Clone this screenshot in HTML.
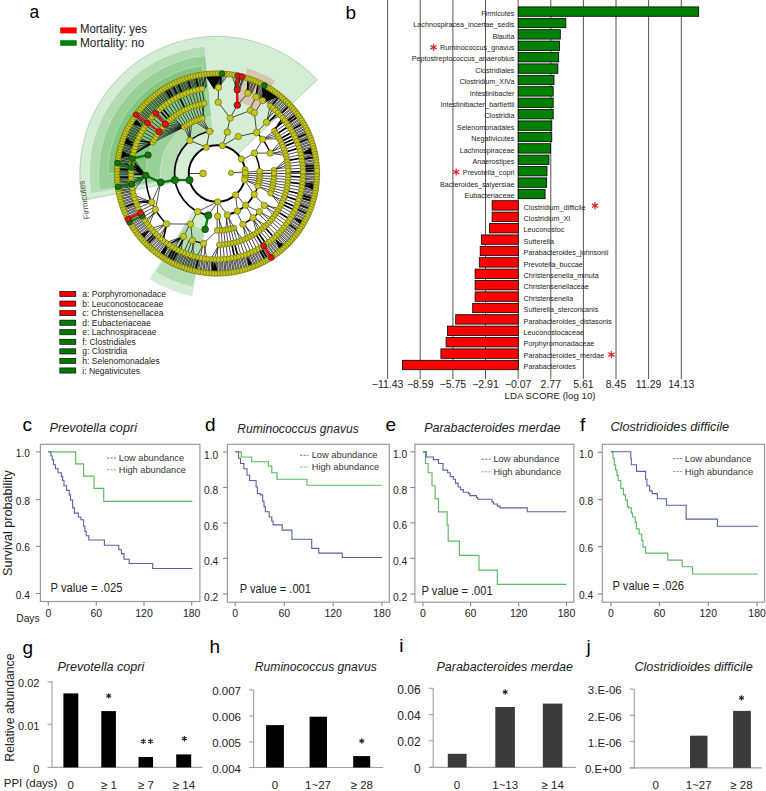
<!DOCTYPE html><html><head><meta charset="utf-8"><style>html,body{margin:0;padding:0;background:#fff;}svg{display:block;}text{font-family:"Liberation Sans", sans-serif;}</style></head><body>
<svg width="766" height="791" viewBox="0 0 766 791">
<rect width="766" height="791" fill="#fff"/>
<path d="M82.5 200.6 A137.2 137.2 0 0 1 317.3 79.9 L237.7 154.2 A28.3 28.3 0 0 0 189.3 179.1 Z" fill="#2e9e2e" fill-opacity="0.2" stroke="#3a8a3a" stroke-width="0.6" stroke-opacity="0.5"/>
<path d="M90.8 193.5 A127.8 127.8 0 0 1 204.8 46.3 L212.9 131.0 A42.7 42.7 0 0 0 174.8 180.2 Z" fill="#2e9e2e" fill-opacity="0.2" stroke="#fff" stroke-width="0.6" stroke-opacity="0.5"/>
<path d="M99.7 190.0 A118.5 118.5 0 0 1 205.6 55.5 L211.5 116.8 A57 57 0 0 0 160.6 181.4 Z" fill="#2e9e2e" fill-opacity="0.2" stroke="#fff" stroke-width="0.6" stroke-opacity="0.5"/>
<path d="M108.0 173.5 A109 109 0 0 1 201.8 65.6 L207.1 102.9 A71.3 71.3 0 0 0 145.7 173.5 Z" fill="#2e9e2e" fill-opacity="0.2" stroke="#fff" stroke-width="0.6" stroke-opacity="0.5"/>
<path d="M192.2 296.5 A125.5 125.5 0 0 1 149.2 279.1 L193.9 209.4 A42.7 42.7 0 0 0 208.6 215.4 Z" fill="#2e9e2e" fill-opacity="0.2" stroke="#fff" stroke-width="0.6" stroke-opacity="0.5"/>
<path d="M192.9 287.0 A116 116 0 0 1 155.5 271.9 L186.8 221.8 A57 57 0 0 0 205.1 229.3 Z" fill="#2e9e2e" fill-opacity="0.2" stroke="#fff" stroke-width="0.6" stroke-opacity="0.5"/>
<path d="M247.2 68.2 A109.5 109.5 0 0 1 275.0 80.6 L256.7 109.9 A75 75 0 0 0 237.7 101.4 Z" fill="#e06050" fill-opacity="0.28"/>
<path d="M259.7 173.5L245.3 173.5M259.6 176.0L245.3 175.2M259.4 178.6L245.1 176.9M259.0 181.1L244.9 178.5M258.5 183.5L244.5 180.2M257.8 186.0L244.6 179.9M254.2 194.5L244.6 179.9M245.6 205.2L235.9 194.5M237.4 211.0L235.6 194.9M227.3 214.9L217.7 201.8M217.7 216.2L217.5 201.8M208.3 215.3L217.7 201.8M197.7 211.6L217.7 201.8M174.9 180.4L189.5 180.1M189.9 140.5L206.4 147.3M209.6 131.4L206.4 147.3M227.3 132.1L222.4 145.7M238.3 136.5L222.4 145.7M254.5 153.1L241.8 160.0M259.6 171.3L245.3 172.0M274.0 173.5L259.7 173.5M273.9 176.4L259.6 175.7M273.7 179.3L259.5 177.8M273.3 182.1L259.2 180.0M272.8 185.0L258.8 182.1M272.2 187.8L258.3 184.2M271.4 190.5L257.7 186.3M270.5 193.3L257.8 186.0M264.3 205.4L254.2 194.5M259.4 211.6L245.6 205.2M252.9 217.8L245.6 205.2M242.9 224.3L236.4 211.5M234.1 227.9L227.3 214.9M231.4 228.7L227.8 214.8M228.6 229.3L225.7 215.3M225.7 229.8L227.3 214.9M222.9 230.2L217.7 216.2M220.0 230.4L219.2 216.1M217.1 230.5L217.1 216.2M190.7 224.1L197.3 211.4M160.7 182.4L174.8 180.2M184.2 126.9L189.9 140.5M186.6 125.3L189.9 140.5M189.1 123.8L189.9 140.5M191.7 122.4L189.9 140.5M194.3 121.2L209.6 131.4M196.9 120.1L209.6 131.4M199.7 119.2L209.6 131.4M202.4 118.4L209.6 131.4M230.2 118.1L226.9 132.0M256.6 132.5L238.3 136.5M262.5 139.2L254.5 153.1M270.2 153.1L254.5 153.1M273.9 170.2L259.6 171.0M274.0 173.1L259.7 173.2M288.3 173.5L274.0 173.5M288.2 176.5L273.9 175.9M288.0 179.6L273.8 178.4M287.7 182.6L273.5 180.8M287.3 185.6L273.2 183.2M286.7 188.6L272.7 185.6M286.0 191.6L272.1 188.0M285.1 194.5L271.5 190.3M284.2 197.4L270.7 192.6M283.1 200.3L269.8 194.9M281.9 203.1L270.5 193.3M280.6 205.8L270.5 193.3M279.1 208.5L264.3 205.4M277.6 211.1L265.4 203.6M275.9 213.7L264.1 205.6M274.1 216.2L264.3 205.4M272.3 218.6L259.4 211.6M270.3 220.9L259.6 211.4M268.2 223.1L257.9 213.2M266.0 225.3L252.9 217.8M263.8 227.3L254.4 216.5M261.4 229.3L252.5 218.1M259.0 231.1L252.9 217.8M256.5 232.9L252.9 217.8M253.9 234.5L242.9 224.3M251.3 236.0L244.4 223.5M248.6 237.4L242.3 224.6M245.8 238.7L242.9 224.3M243.0 239.9L234.1 227.9M240.2 240.9L235.5 227.4M237.3 241.9L233.2 228.2M234.3 242.7L230.8 228.8M231.3 243.3L228.5 229.3M228.3 243.9L226.1 229.8M225.3 244.3L223.7 230.1M222.3 244.6L221.2 230.3M219.2 244.8L218.8 230.5M203.6 243.5L217.1 230.5M192.4 240.4L190.7 224.1M183.5 236.5L190.2 223.8M166.6 223.9L190.7 224.1M155.4 209.5L160.7 182.4M151.8 202.3L160.7 182.4M145.7 175.5L160.7 182.4M152.8 142.5L184.2 126.9M154.2 139.8L184.2 126.9M155.7 137.1L184.2 126.9M157.3 134.5L184.2 126.9M159.0 132.0L184.2 126.9M160.9 129.6L184.2 126.9M162.8 127.2L184.2 126.9M164.8 124.9L184.2 126.9M166.9 122.7L184.2 126.9M169.2 120.6L184.2 126.9M171.5 118.6L184.2 126.9M173.8 116.7L182.5 128.1M176.3 115.0L184.5 126.7M178.8 113.3L186.5 125.3M181.5 111.7L188.6 124.1M184.1 110.2L190.7 122.9M186.9 108.9L192.9 121.8M189.7 107.7L195.1 120.9M192.5 106.5L197.4 120.0M195.4 105.6L199.7 119.2M198.3 104.7L202.1 118.5M201.3 104.0L204.4 117.9M204.3 103.3L202.4 118.4M218.2 102.2L230.2 118.1M237.3 105.1L230.2 118.1M250.5 110.5L230.2 118.1M254.4 112.8L256.6 132.5M266.5 122.2L256.6 132.5M274.2 131.0L262.8 139.5M276.0 133.5L262.5 139.2M277.7 136.0L262.5 139.2M279.2 138.7L262.5 139.2M280.6 141.4L270.2 153.1M282.0 144.1L270.2 153.1M283.2 146.9L269.9 152.2M284.2 149.8L270.7 154.5M285.2 152.7L270.2 153.1M286.0 155.6L270.2 153.1M286.7 158.6L273.9 170.2M287.3 161.5L273.9 170.2M287.7 164.6L273.9 170.2M288.1 167.6L273.8 168.8M288.2 170.6L274.0 171.2M303.0 173.5L288.3 173.5M302.7 180.4L288.1 179.2M301.9 187.2L287.4 184.9M301.3 190.6L286.9 187.7M299.6 197.3L285.5 193.3M297.4 203.9L283.7 198.7M293.2 213.3L280.2 206.5M291.6 216.4L278.8 209.0M287.9 222.2L275.8 213.9M285.9 225.0L274.1 216.2M283.7 227.7L272.3 218.5M281.5 230.4L270.5 220.7M279.2 232.9L268.5 222.8M276.7 235.4L266.5 224.8M271.6 240.0L262.3 228.6M268.9 242.1L260.0 230.4M260.3 247.8L252.9 235.1M257.2 249.5L250.4 236.5M254.2 251.1L247.8 237.8M251.0 252.5L245.2 239.0M247.8 253.8L242.6 240.1M244.6 255.0L239.9 241.0M241.3 256.0L237.1 241.9M231.2 258.3L228.8 243.8M227.8 258.8L225.9 244.2M224.3 259.2L223.1 244.5M220.9 259.4L220.2 244.7M217.5 259.5L217.4 244.8M214.0 259.4L219.2 244.8M210.6 259.3L219.2 244.8M207.1 258.9L203.6 243.5M203.7 258.5L206.0 243.9M200.3 257.9L203.2 243.4M196.9 257.1L203.6 243.5M193.6 256.3L192.4 240.4M190.3 255.2L194.8 241.3M187.0 254.1L192.1 240.3M183.8 252.8L189.5 239.3M180.7 251.4L183.5 236.5M174.5 248.3L181.8 235.5M171.6 246.5L183.5 236.5M165.8 242.6L183.5 236.5M160.5 238.3L166.6 223.9M157.9 236.0L168.0 225.3M155.5 233.6L166.0 223.3M153.1 231.0L166.6 223.9M150.8 228.4L166.6 223.9M148.7 225.7L155.4 209.5M146.6 223.0L155.4 209.5M144.7 220.1L157.1 212.1M142.9 217.1L155.6 209.7M141.2 214.1L154.2 207.2M139.6 211.1L152.9 204.6M138.2 207.9L151.7 202.0M136.9 204.7L150.6 199.4M134.6 198.2L151.8 202.3M133.7 194.9L151.8 202.3M132.9 191.5L145.7 175.5M132.3 188.1L145.7 175.5M131.7 184.7L145.7 175.5M131.4 181.3L145.7 175.5M131.1 177.9L145.8 177.1M131.0 170.9L145.7 175.5M132.6 157.2L145.7 175.5M134.1 150.5L152.8 142.5M135.1 147.2L152.8 142.5M136.2 143.9L152.8 142.5M138.9 137.6L152.2 143.7M140.4 134.5L153.5 141.1M142.0 131.4L154.8 138.6M143.8 128.4L156.3 136.1M145.6 125.5L157.8 133.7M147.6 122.7L159.5 131.4M149.7 120.0L161.2 129.1M151.9 117.3L163.0 126.9M154.2 114.7L164.9 124.8M156.6 112.3L166.9 122.7M164.4 105.5L173.4 117.1M167.2 103.4L175.7 115.4M170.0 101.5L178.1 113.8M173.0 99.6L180.5 112.3M176.0 97.9L183.0 110.8M182.2 94.9L188.1 108.3M185.3 93.5L190.8 107.2M188.6 92.3L193.4 106.2M191.9 91.3L196.2 105.3M195.2 90.3L198.9 104.5M198.5 89.5L201.7 103.9M201.9 88.8L204.5 103.3M218.5 87.5L218.2 102.2M247.8 93.2L237.3 105.1M256.0 96.9L249.4 110.0M262.6 100.6L254.8 113.0M270.2 105.9L266.5 122.2M272.9 108.1L266.5 122.2M275.4 110.4L265.4 121.2M280.3 115.3L266.5 122.2M286.8 123.3L274.9 131.9M290.6 129.1L278.1 136.7M298.0 144.7L284.2 149.6M300.1 151.2L285.9 155.0M300.9 154.6L286.6 157.8M302.1 161.4L287.6 163.5M302.6 164.8L287.9 166.3M302.8 168.2L288.2 169.1M317.0 173.5L303.0 173.5M316.0 174.6L304.0 174.5M317.0 176.3L303.0 175.9M315.9 177.4L303.9 176.9M316.8 179.1L302.9 178.3M315.8 180.1L303.8 179.3M316.6 181.9L302.7 180.7M315.6 182.9L303.6 181.8M315.3 185.7L303.3 184.2M314.9 188.4L303.0 186.6M315.6 190.2L301.8 187.8M314.4 191.1L302.6 189.0M315.1 192.9L301.4 190.2M313.9 193.8L302.1 191.4M314.5 195.7L300.9 192.6M313.3 196.5L301.6 193.7M312.6 199.2L301.0 196.1M311.8 201.9L300.4 198.4M312.3 203.7L299.0 199.5M311.0 204.5L299.6 200.7M311.4 206.4L298.2 201.8M310.1 207.1L298.8 203.0M309.1 209.7L298.0 205.3M309.5 211.6L296.5 206.3M308.1 212.3L297.1 207.6M307.0 214.8L296.1 209.8M307.2 216.7L294.6 210.7M305.8 217.3L295.0 212.0M305.9 219.2L293.5 212.8M304.5 219.7L293.9 214.1M304.6 221.7L292.4 214.9M303.2 222.2L292.8 216.3M303.3 224.1L291.2 217.0M301.8 224.6L291.5 218.4M301.8 226.5L289.9 219.1M300.4 226.9L290.3 220.4M300.3 228.8L288.6 221.1M298.8 229.2L288.9 222.5M297.2 231.5L287.5 224.5M297.1 233.4L285.9 225.0M295.6 233.7L286.1 226.4M295.4 235.6L284.4 226.9M293.9 235.9L284.6 228.3M293.6 237.8L282.9 228.8M292.1 238.0L283.0 230.2M291.8 239.9L281.3 230.6M290.3 240.1L281.4 232.0M289.9 242.0L279.7 232.4M288.4 242.1L279.7 233.8M288.0 244.0L278.0 234.1M286.5 244.1L278.0 235.5M286.0 245.9L276.3 235.8M284.5 246.0L276.3 237.2M283.9 247.8L274.5 237.4M282.4 247.8L274.5 238.8M281.8 249.7L272.7 239.0M280.3 249.6L272.6 240.4M279.7 251.4L270.9 240.5M278.2 251.4L270.7 241.9M277.5 253.2L269.0 242.0M276.0 253.0L268.8 243.4M275.2 254.8L267.1 243.4M273.7 254.6L266.8 244.8M272.9 256.4L265.1 244.8M271.4 256.2L264.8 246.2M270.6 257.9L263.1 246.1M269.1 257.7L262.8 247.5M266.7 259.1L260.7 248.7M264.3 260.5L258.6 249.9M263.3 262.1L256.8 249.7M261.9 261.7L256.4 251.1M260.8 263.4L254.7 250.8M259.4 263.0L254.2 252.1M258.3 264.6L252.5 251.8M256.9 264.1L252.0 253.1M255.8 265.7L250.3 252.8M254.3 265.2L249.8 254.1M253.2 266.7L248.1 253.7M251.8 266.2L247.5 255.0M250.5 267.7L245.8 254.5M249.1 267.1L245.3 255.8M247.9 268.6L243.6 255.3M246.5 268.0L242.9 256.5M245.2 269.4L241.3 256.0M243.9 268.8L240.6 257.2M242.5 270.2L239.0 256.6M241.2 269.5L238.3 257.9M239.8 270.9L236.6 257.2M238.5 270.1L235.9 258.4M237.1 271.5L234.3 257.7M235.8 270.7L233.5 258.9M234.4 272.0L231.9 258.2M233.1 271.2L231.1 259.3M231.6 272.4L229.6 258.6M230.4 271.6L228.7 259.7M228.8 272.8L227.2 258.9M227.6 271.9L226.3 260.0M226.1 273.1L224.8 259.1M224.9 272.2L223.9 260.2M223.3 273.3L222.4 259.3M222.1 272.4L221.5 260.4M220.5 273.4L220.0 259.4M219.3 272.5L219.0 260.5M217.7 273.5L217.6 259.5M216.6 272.5L216.6 260.5M214.9 273.5L215.2 259.5M213.8 272.4L214.2 260.5M211.0 272.3L211.8 260.3M209.3 273.2L210.4 259.2M208.3 272.1L209.3 260.2M206.5 273.0L208.0 259.0M205.5 271.8L206.9 259.9M203.8 272.6L205.6 258.7M202.8 271.5L204.5 259.6M201.0 272.2L203.3 258.4M200.1 271.0L202.1 259.2M198.3 271.7L200.9 258.0M197.3 270.5L199.7 258.8M194.6 269.9L197.4 258.3M192.8 270.5L196.2 256.9M192.0 269.3L195.0 257.7M190.1 269.8L193.9 256.3M189.3 268.5L192.7 257.0M187.4 269.0L191.6 255.7M186.7 267.7L190.3 256.3M184.8 268.2L189.3 254.9M184.0 266.9L188.0 255.5M182.1 267.2L187.0 254.1M181.4 265.9L185.8 254.7M179.5 266.2L184.8 253.2M178.9 264.9L183.5 253.8M177.0 265.1L182.6 252.3M176.3 263.8L181.3 252.8M174.4 264.0L180.4 251.3M173.8 262.6L179.1 251.8M171.4 261.4L176.9 250.7M168.9 260.0L174.8 249.6M166.5 258.7L172.6 248.3M164.6 258.7L171.9 246.7M164.2 257.2L170.6 247.1M162.2 257.2L169.9 245.5M161.9 255.7L168.5 245.8M159.6 254.1L166.5 244.4M157.7 254.0L166.0 242.7M157.4 252.5L164.6 242.9M155.4 252.3L164.1 241.3M155.2 250.8L162.7 241.4M153.3 250.6L162.2 239.8M153.0 249.1L160.8 239.9M151.1 248.7L160.4 238.2M150.9 247.2L159.0 238.3M149.1 246.9L158.6 236.6M148.9 245.4L157.2 236.7M146.9 243.4L155.4 235.0M145.0 241.5L153.7 233.2M143.2 240.9L153.5 231.5M143.1 239.4L152.1 231.4M141.3 238.8L151.9 229.7M141.3 237.3L150.5 229.6M139.5 236.7L150.4 227.9M139.6 235.2L149.0 227.7M137.8 234.5L148.9 226.0M137.9 233.0L147.5 225.8M136.1 232.3L147.4 224.0M136.3 230.8L146.0 223.8M134.5 230.0L146.0 222.1M134.7 228.5L144.7 221.8M132.9 227.7L144.7 220.1M133.2 226.2L143.3 219.8M131.5 225.3L143.4 218.1M131.7 223.8L142.1 217.7M130.1 222.9L142.2 216.0M130.4 221.4L140.9 215.6M128.7 220.4L141.1 213.9M129.1 219.0L139.7 213.5M127.4 218.0L140.0 211.7M127.8 216.5L138.6 211.3M126.2 215.4L138.9 209.6M126.7 214.0L137.6 209.1M125.1 212.9L138.0 207.4M125.6 211.5L136.7 206.9M124.0 210.3L137.0 205.2M124.5 208.9L135.8 204.6M123.6 206.3L134.9 202.3M122.1 205.1L135.4 200.6M122.7 203.7L134.1 200.0M121.3 202.4L134.7 198.4M121.9 201.0L133.4 197.7M120.5 199.7L134.0 196.0M121.2 198.4L132.8 195.4M119.8 197.0L133.4 193.7M120.5 195.7L132.2 193.0M119.2 194.3L132.9 191.4M119.9 193.0L131.7 190.6M118.6 191.6L132.4 189.0M119.4 190.3L131.3 188.2M118.2 188.8L132.0 186.7M119.0 187.5L130.9 185.8M117.8 186.0L131.7 184.3M118.6 184.8L130.6 183.4M117.5 183.3L131.4 181.9M118.4 182.0L130.3 181.0M117.2 180.5L131.2 179.5M118.2 179.3L130.1 178.6M118.0 176.5L130.0 176.2M117.0 174.9L131.0 174.7M118.0 173.8L130.0 173.7M117.0 172.1L131.0 172.3M118.0 171.0L130.0 171.3M118.1 168.2L130.1 168.9M117.2 166.5L131.2 167.5M118.3 165.5L130.3 166.4M118.6 162.7L130.5 164.0M117.8 161.0L131.7 162.7M118.9 160.0L130.8 161.6M118.2 158.2L132.0 160.3M119.3 157.2L131.2 159.2M118.6 155.4L132.4 158.0M119.8 154.5L131.6 156.8M119.2 152.7L132.9 155.6M120.4 151.8L132.1 154.4M119.8 150.0L133.4 153.3M121.0 149.1L132.7 152.1M120.5 147.3L134.0 151.0M121.8 146.5L133.3 149.7M121.3 144.6L134.7 148.6M122.6 143.8L134.0 147.4M123.4 141.2L134.8 145.1M123.0 139.3L136.2 144.1M124.4 138.6L135.6 142.8M124.0 136.7L137.0 141.8M125.4 136.0L136.5 140.6M125.1 134.1L138.0 139.6M126.5 133.5L137.4 138.3M126.2 131.6L138.9 137.4M127.6 131.0L138.4 136.1M127.4 129.0L140.0 135.3M128.8 128.5L139.5 133.9M128.7 126.6L141.1 133.1M130.1 126.0L140.7 131.8M130.1 124.1L142.2 131.0M131.5 123.6L141.8 129.7M131.5 121.7L143.4 128.9M132.9 121.3L143.1 127.6M132.9 119.3L144.7 126.9M134.4 118.9L144.4 125.5M134.5 117.0L146.0 124.9M136.0 116.6L145.8 123.5M136.1 114.7L147.4 123.0M137.6 114.4L147.2 121.6M137.8 112.5L148.9 121.0M139.3 112.2L148.7 119.6M139.5 110.3L150.4 119.1M141.0 110.1L150.2 117.8M141.3 108.2L151.9 117.3M142.8 108.0L151.8 115.9M143.2 106.1L153.5 115.5M144.7 105.9L153.4 114.1M145.1 104.0L155.1 113.8M146.6 103.9L155.1 112.4M147.0 102.1L156.8 112.1M148.5 102.0L156.8 110.7M149.1 100.1L158.6 110.4M150.6 100.1L158.6 109.0M151.1 98.3L160.4 108.8M152.6 98.3L160.4 107.4M153.3 96.4L162.2 107.2M154.8 96.5L162.3 105.8M155.4 94.7L164.1 105.7M156.9 94.8L164.2 104.3M157.7 93.0L166.0 104.3M159.2 93.2L166.2 102.9M159.9 91.4L167.9 102.9M161.4 91.6L168.2 101.5M162.2 89.8L169.9 101.5M163.7 90.1L170.2 100.2M166.1 88.6L172.3 98.9M168.5 87.2L174.4 97.7M169.4 85.5L176.1 97.9M170.9 85.9L176.5 96.5M173.4 84.6L178.7 95.4M174.4 83.0L180.4 95.7M175.9 83.4L180.9 94.4M178.4 82.3L183.1 93.4M179.5 80.8L184.8 93.8M181.0 81.3L185.3 92.5M182.1 79.8L187.0 92.9M183.5 80.3L187.6 91.6M184.8 78.8L189.3 92.1M186.2 79.4L189.9 90.8M188.8 78.6L192.2 90.1M190.1 77.2L193.9 90.7M191.5 77.9L194.6 89.4M192.8 76.5L196.2 90.1M194.1 77.2L196.9 88.9M196.8 76.6L199.3 88.3M198.3 75.3L200.9 89.0M199.6 76.0L201.7 87.9M201.0 74.8L203.3 88.6M202.3 75.6L204.1 87.5M203.8 74.4L205.6 88.3M205.0 75.2L206.5 87.1M206.5 74.0L201.9 88.8M209.3 73.8L218.5 87.5M212.1 73.6L218.5 87.5M214.9 73.5L215.2 87.5M216.0 74.5L216.2 86.5M217.7 73.5L217.6 87.5M218.8 74.5L218.6 86.5M221.6 74.6L221.0 86.6M223.3 73.7L218.5 87.5M226.1 73.9L218.5 87.5M228.8 74.2L218.5 87.5M231.6 74.6L237.2 89.9M234.4 75.0L237.2 89.9M237.1 75.5L234.3 89.3M238.0 76.8L235.5 88.5M240.7 77.4L237.8 89.0M242.5 76.8L239.0 90.4M243.4 78.1L240.2 89.6M245.2 77.6L237.2 89.9M250.5 79.3L245.8 92.5M251.3 80.6L247.1 91.9M253.2 80.3L248.1 93.3M253.8 81.6L249.4 92.7M255.8 81.3L250.3 94.2M256.4 82.7L251.6 93.7M260.8 83.6L254.7 96.2M261.4 85.0L256.0 95.7M263.3 84.9L256.8 97.3M263.9 86.3L258.2 96.9M265.8 86.2L259.0 98.4M266.3 87.6L260.3 98.0M268.7 89.0L262.4 99.3M270.6 89.1L263.1 100.9M271.0 90.5L264.4 100.6M273.3 92.1L266.5 101.9M275.2 92.2L267.1 103.6M275.5 93.7L268.4 103.3M277.5 93.8L269.0 105.0M277.7 95.3L270.4 104.8M279.9 97.1L272.3 106.3M281.8 97.3L272.7 108.0M282.0 98.8L274.1 107.9M283.9 99.2L274.5 109.6M284.1 100.7L275.9 109.5M286.0 101.1L276.3 111.2M286.1 102.6L277.7 111.2M288.0 103.0L278.0 112.9M288.0 104.5L279.4 112.9M289.9 106.6L281.1 114.7M291.8 107.1L281.3 116.4M291.8 108.6L282.7 116.5M293.6 109.2L282.9 118.2M293.6 110.7L284.3 118.3M295.4 111.4L284.4 120.1M295.3 112.9L285.8 120.2M296.9 115.1L287.3 122.2M298.5 117.4L288.7 124.2M300.3 118.2L288.6 125.9M300.1 119.7L290.0 126.2M301.8 120.5L289.9 127.9M301.5 122.0L291.3 128.2M303.0 124.4L292.5 130.3M304.6 125.3L292.4 132.1M304.3 126.8L293.7 132.5M305.9 127.8L293.5 134.2M305.6 129.2L294.8 134.6M307.2 130.3L294.6 136.3M306.8 131.7L295.9 136.8M307.9 134.3L296.9 139.0M309.5 135.4L296.5 140.7M309.0 136.8L297.8 141.3M309.9 139.4L298.7 143.5M311.4 140.6L298.2 145.2M310.9 142.0L299.5 145.8M312.3 143.3L299.0 147.5M311.7 144.6L300.2 148.1M313.1 145.9L299.7 149.8M312.5 147.3L300.9 150.5M313.9 148.6L300.3 152.1M313.2 150.0L301.5 152.8M314.5 151.3L300.9 154.4M313.8 152.7L302.1 155.2M315.1 154.1L301.4 156.8M314.3 155.4L302.5 157.6M314.8 158.1L302.9 160.0M316.0 159.6L302.2 161.5M315.2 160.8L303.3 162.4M316.4 162.4L302.5 163.9M315.5 163.6L303.6 164.8M315.7 166.3L303.8 167.2M315.9 169.1L303.9 169.6M316.0 171.9L304.0 172.1" stroke="#111" stroke-width="0.75" fill="none"/>
<path d="M302.9 177.0L288.2 176.4M302.4 183.8L287.8 182.1M300.5 194.0L286.2 190.5M298.6 200.6L284.7 196.0M296.2 207.1L282.6 201.4M294.8 210.3L281.5 204.0M289.8 219.3L277.3 211.5M274.2 237.7L264.4 226.7M266.1 244.1L257.7 232.0M263.2 246.0L255.3 233.6M238.0 256.9L234.4 242.7M234.6 257.7L231.6 243.3M177.6 249.9L184.3 236.9M168.7 244.6L183.5 236.5M163.1 240.5L166.6 223.9M135.7 201.5L151.8 202.3M131.0 174.4L145.7 174.2M131.2 167.5L145.7 175.5M131.5 164.1L145.7 175.5M132.0 160.6L145.7 175.5M133.3 153.9L152.8 142.5M137.5 140.7L152.8 142.5M159.1 109.9L169.0 120.8M161.7 107.6L171.2 118.9M179.0 96.3L185.5 109.5M237.2 89.9L237.3 105.1M277.9 112.8L267.5 123.2M282.6 117.9L274.2 131.0M284.8 120.6L273.2 129.6M288.8 126.2L276.5 134.3M292.4 132.1L279.5 139.2M294.0 135.1L280.8 141.7M295.4 138.2L282.0 144.3M296.8 141.4L283.2 146.9M299.1 147.9L285.1 152.3M301.6 158.0L287.1 160.6M303.0 171.7L288.3 172.0M316.4 184.6L302.5 183.1M316.0 187.4L302.2 185.5M313.9 198.4L300.3 194.9M313.1 201.1L299.7 197.2M310.5 209.0L297.4 204.0M308.4 214.2L295.6 208.5M298.7 231.1L287.3 223.1M268.2 259.4L261.0 247.4M265.8 260.8L259.0 248.6M212.1 273.4L212.8 259.4M195.5 271.2L198.5 257.5M171.9 262.8L178.2 250.3M169.4 261.5L176.1 249.1M167.0 260.1L174.0 248.0M159.9 255.6L167.9 244.1M147.0 244.9L156.8 234.9M145.1 243.0L155.1 233.2M123.0 207.7L136.2 202.9M117.1 177.7L131.1 177.1M117.1 169.3L131.1 169.9M117.5 163.7L131.4 165.1M122.1 141.9L135.4 146.4M164.6 88.3L171.9 100.3M167.0 86.9L174.0 99.0M171.9 84.2L178.2 96.7M177.0 81.9L182.6 94.7M187.4 78.0L191.6 91.3M195.5 75.8L198.5 89.5M220.5 73.6L220.0 87.6M239.8 76.1L236.6 89.8M247.9 78.4L247.8 93.2M258.3 82.4L256.0 96.9M268.2 87.6L261.0 99.6M272.9 90.6L265.1 102.2M279.7 95.6L270.9 106.5M289.9 105.0L279.7 114.6M297.1 113.6L285.9 122.0M298.7 115.9L287.3 123.9M303.3 122.9L291.2 130.0M308.4 132.8L295.6 138.5M310.5 138.0L297.4 143.0M315.6 156.8L301.8 159.2M316.6 165.1L302.7 166.3M316.8 167.9L302.9 168.7M317.0 170.7L303.0 171.1" stroke="#000" stroke-width="1.7" fill="none"/>
<path d="M214.1 89.6L204.9 75.2L222.2 74.6ZM262.7 103.1L261.9 85.3L279.3 96.6ZM302.6 153.3L312.3 146.5L314.2 154.9ZM275.2 239.5L285.0 245.4L279.8 250.0ZM214.8 261.5L218.0 272.5L211.1 272.3ZM130.7 156.1L119.2 158.2L120.9 149.7ZM134.3 143.4L122.8 142.9L125.2 136.4ZM142.4 126.9L131.3 124.0L134.9 118.1ZM149.6 230.1L143.2 239.5L139.2 234.7ZM167.8 246.5L163.8 257.0L159.5 254.1ZM304.1 185.7L315.4 184.2L314.6 190.4ZM293.2 217.5L304.0 220.7L301.4 225.2ZM247.1 256.2L253.3 265.6L248.4 267.4Z" fill="#000"/>
<line x1="203.0" y1="173.5" x2="188.7" y2="173.5" stroke="#111" stroke-width="0.8"/>
<line x1="231.0" y1="172.8" x2="245.3" y2="172.0" stroke="#111" stroke-width="0.8"/>
<circle cx="217.0" cy="173.5" r="28.3" fill="none" stroke="#000" stroke-width="1.9"/>
<path d="M208.4 215.3 A42.7 42.7 0 0 1 213.3 131.0" fill="none" stroke="#000" stroke-width="1.7"/>
<path d="M254.0 152.1 A42.7 42.7 0 0 1 254.0 194.8" fill="none" stroke="#000" stroke-width="1.5"/>
<path d="M166.8 224.2 A71.3 71.3 0 0 1 145.7 175.2" fill="none" stroke="#000" stroke-width="1.5"/>
<path d="M203.6 243.5 A71.3 71.3 0 0 1 192.4 240.4" fill="none" stroke="#000" stroke-width="1.3"/>
<path d="M183.5 127.4 A57.0 57.0 0 0 1 204.2 118.0" fill="none" stroke="#000" stroke-width="1.2"/>
<path d="M256.6 132.5 A57.0 57.0 0 0 1 270.2 153.1" fill="none" stroke="#000" stroke-width="1.4"/>
<path d="M254.2 194.5 A42.7 42.7 0 0 1 227.3 214.9" fill="none" stroke="#000" stroke-width="1.6"/>
<path d="M259.4 211.6 A57.0 57.0 0 0 1 242.9 224.3" fill="none" stroke="#000" stroke-width="1.4"/>
<circle cx="203.0" cy="173.5" r="3.4" fill="#c4c81e" stroke="#6e6e0c" stroke-width="0.7"/><circle cx="231.0" cy="172.8" r="2.6" fill="#c4c81e" stroke="#6e6e0c" stroke-width="0.7"/><circle cx="245.3" cy="175.0" r="3.1" fill="#c4c81e" stroke="#6e6e0c" stroke-width="0.7"/><circle cx="245.0" cy="177.4" r="3.1" fill="#c4c81e" stroke="#6e6e0c" stroke-width="0.7"/><circle cx="244.6" cy="179.9" r="3.1" fill="#c4c81e" stroke="#6e6e0c" stroke-width="0.7"/><circle cx="235.6" cy="194.9" r="3.1" fill="#c4c81e" stroke="#6e6e0c" stroke-width="0.7"/><circle cx="217.7" cy="201.8" r="3.1" fill="#c4c81e" stroke="#6e6e0c" stroke-width="0.7"/><circle cx="189.5" cy="180.1" r="3.1" fill="#c4c81e" stroke="#6e6e0c" stroke-width="0.7"/><circle cx="206.4" cy="147.3" r="3.1" fill="#c4c81e" stroke="#6e6e0c" stroke-width="0.7"/><circle cx="222.4" cy="145.7" r="3.1" fill="#c4c81e" stroke="#6e6e0c" stroke-width="0.7"/><circle cx="241.4" cy="159.1" r="3.1" fill="#c4c81e" stroke="#6e6e0c" stroke-width="0.7"/><circle cx="245.0" cy="169.6" r="3.1" fill="#c4c81e" stroke="#6e6e0c" stroke-width="0.7"/><circle cx="245.3" cy="172.8" r="3.1" fill="#c4c81e" stroke="#6e6e0c" stroke-width="0.7"/><circle cx="259.7" cy="173.5" r="2.9" fill="#c4c81e" stroke="#6e6e0c" stroke-width="0.7"/><circle cx="259.6" cy="176.0" r="2.9" fill="#c4c81e" stroke="#6e6e0c" stroke-width="0.7"/><circle cx="259.4" cy="178.6" r="2.9" fill="#c4c81e" stroke="#6e6e0c" stroke-width="0.7"/><circle cx="259.0" cy="181.1" r="2.9" fill="#c4c81e" stroke="#6e6e0c" stroke-width="0.7"/><circle cx="258.5" cy="183.5" r="2.9" fill="#c4c81e" stroke="#6e6e0c" stroke-width="0.7"/><circle cx="257.8" cy="186.0" r="2.9" fill="#c4c81e" stroke="#6e6e0c" stroke-width="0.7"/><circle cx="254.2" cy="194.5" r="3.2" fill="#c4c81e" stroke="#6e6e0c" stroke-width="0.7"/><circle cx="245.6" cy="205.2" r="3.2" fill="#c4c81e" stroke="#6e6e0c" stroke-width="0.7"/><circle cx="237.4" cy="211.0" r="3.2" fill="#c4c81e" stroke="#6e6e0c" stroke-width="0.7"/><circle cx="227.3" cy="214.9" r="3.2" fill="#c4c81e" stroke="#6e6e0c" stroke-width="0.7"/><circle cx="217.7" cy="216.2" r="3.2" fill="#c4c81e" stroke="#6e6e0c" stroke-width="0.7"/><circle cx="208.3" cy="215.3" r="3.2" fill="#c4c81e" stroke="#6e6e0c" stroke-width="0.7"/><circle cx="197.7" cy="211.6" r="3.2" fill="#c4c81e" stroke="#6e6e0c" stroke-width="0.7"/><circle cx="174.9" cy="180.4" r="3.2" fill="#c4c81e" stroke="#6e6e0c" stroke-width="0.7"/><circle cx="189.9" cy="140.5" r="3.2" fill="#c4c81e" stroke="#6e6e0c" stroke-width="0.7"/><circle cx="209.6" cy="131.4" r="3.2" fill="#c4c81e" stroke="#6e6e0c" stroke-width="0.7"/><circle cx="227.3" cy="132.1" r="3.2" fill="#c4c81e" stroke="#6e6e0c" stroke-width="0.7"/><circle cx="238.3" cy="136.5" r="3.2" fill="#c4c81e" stroke="#6e6e0c" stroke-width="0.7"/><circle cx="254.5" cy="153.1" r="3.2" fill="#c4c81e" stroke="#6e6e0c" stroke-width="0.7"/><circle cx="259.6" cy="171.3" r="2.9" fill="#c4c81e" stroke="#6e6e0c" stroke-width="0.7"/><circle cx="274.0" cy="173.5" r="2.8" fill="#c4c81e" stroke="#6e6e0c" stroke-width="0.7"/><circle cx="273.9" cy="176.4" r="2.8" fill="#c4c81e" stroke="#6e6e0c" stroke-width="0.7"/><circle cx="273.7" cy="179.3" r="2.8" fill="#c4c81e" stroke="#6e6e0c" stroke-width="0.7"/><circle cx="273.3" cy="182.1" r="2.8" fill="#c4c81e" stroke="#6e6e0c" stroke-width="0.7"/><circle cx="272.8" cy="185.0" r="2.8" fill="#c4c81e" stroke="#6e6e0c" stroke-width="0.7"/><circle cx="272.2" cy="187.8" r="2.8" fill="#c4c81e" stroke="#6e6e0c" stroke-width="0.7"/><circle cx="271.4" cy="190.5" r="2.8" fill="#c4c81e" stroke="#6e6e0c" stroke-width="0.7"/><circle cx="270.5" cy="193.3" r="2.8" fill="#c4c81e" stroke="#6e6e0c" stroke-width="0.7"/><circle cx="264.3" cy="205.4" r="3.2" fill="#c4c81e" stroke="#6e6e0c" stroke-width="0.7"/><circle cx="259.4" cy="211.6" r="3.2" fill="#c4c81e" stroke="#6e6e0c" stroke-width="0.7"/><circle cx="252.9" cy="217.8" r="3.2" fill="#c4c81e" stroke="#6e6e0c" stroke-width="0.7"/><circle cx="242.9" cy="224.3" r="3.2" fill="#c4c81e" stroke="#6e6e0c" stroke-width="0.7"/><circle cx="234.1" cy="227.9" r="2.8" fill="#c4c81e" stroke="#6e6e0c" stroke-width="0.7"/><circle cx="231.4" cy="228.7" r="2.8" fill="#c4c81e" stroke="#6e6e0c" stroke-width="0.7"/><circle cx="228.6" cy="229.3" r="2.8" fill="#c4c81e" stroke="#6e6e0c" stroke-width="0.7"/><circle cx="225.7" cy="229.8" r="2.8" fill="#c4c81e" stroke="#6e6e0c" stroke-width="0.7"/><circle cx="222.9" cy="230.2" r="2.8" fill="#c4c81e" stroke="#6e6e0c" stroke-width="0.7"/><circle cx="220.0" cy="230.4" r="2.8" fill="#c4c81e" stroke="#6e6e0c" stroke-width="0.7"/><circle cx="217.1" cy="230.5" r="2.8" fill="#c4c81e" stroke="#6e6e0c" stroke-width="0.7"/><circle cx="190.7" cy="224.1" r="3.2" fill="#c4c81e" stroke="#6e6e0c" stroke-width="0.7"/><circle cx="160.7" cy="182.4" r="3.2" fill="#c4c81e" stroke="#6e6e0c" stroke-width="0.7"/><circle cx="184.2" cy="126.9" r="2.8" fill="#c4c81e" stroke="#6e6e0c" stroke-width="0.7"/><circle cx="186.6" cy="125.3" r="2.8" fill="#c4c81e" stroke="#6e6e0c" stroke-width="0.7"/><circle cx="189.1" cy="123.8" r="2.8" fill="#c4c81e" stroke="#6e6e0c" stroke-width="0.7"/><circle cx="191.7" cy="122.4" r="2.8" fill="#c4c81e" stroke="#6e6e0c" stroke-width="0.7"/><circle cx="194.3" cy="121.2" r="2.8" fill="#c4c81e" stroke="#6e6e0c" stroke-width="0.7"/><circle cx="196.9" cy="120.1" r="2.8" fill="#c4c81e" stroke="#6e6e0c" stroke-width="0.7"/><circle cx="199.7" cy="119.2" r="2.8" fill="#c4c81e" stroke="#6e6e0c" stroke-width="0.7"/><circle cx="202.4" cy="118.4" r="2.8" fill="#c4c81e" stroke="#6e6e0c" stroke-width="0.7"/><circle cx="230.2" cy="118.1" r="3.2" fill="#c4c81e" stroke="#6e6e0c" stroke-width="0.7"/><circle cx="256.6" cy="132.5" r="3.2" fill="#c4c81e" stroke="#6e6e0c" stroke-width="0.7"/><circle cx="262.5" cy="139.2" r="3.2" fill="#c4c81e" stroke="#6e6e0c" stroke-width="0.7"/><circle cx="270.2" cy="153.1" r="3.2" fill="#c4c81e" stroke="#6e6e0c" stroke-width="0.7"/><circle cx="273.9" cy="170.2" r="2.8" fill="#c4c81e" stroke="#6e6e0c" stroke-width="0.7"/><circle cx="274.0" cy="173.1" r="2.8" fill="#c4c81e" stroke="#6e6e0c" stroke-width="0.7"/><circle cx="288.3" cy="173.5" r="2.7" fill="#c4c81e" stroke="#6e6e0c" stroke-width="0.7"/><circle cx="288.2" cy="176.5" r="2.7" fill="#c4c81e" stroke="#6e6e0c" stroke-width="0.7"/><circle cx="288.0" cy="179.6" r="2.7" fill="#c4c81e" stroke="#6e6e0c" stroke-width="0.7"/><circle cx="287.7" cy="182.6" r="2.7" fill="#c4c81e" stroke="#6e6e0c" stroke-width="0.7"/><circle cx="287.3" cy="185.6" r="2.7" fill="#c4c81e" stroke="#6e6e0c" stroke-width="0.7"/><circle cx="286.7" cy="188.6" r="2.7" fill="#c4c81e" stroke="#6e6e0c" stroke-width="0.7"/><circle cx="286.0" cy="191.6" r="2.7" fill="#c4c81e" stroke="#6e6e0c" stroke-width="0.7"/><circle cx="285.1" cy="194.5" r="2.7" fill="#c4c81e" stroke="#6e6e0c" stroke-width="0.7"/><circle cx="284.2" cy="197.4" r="2.7" fill="#c4c81e" stroke="#6e6e0c" stroke-width="0.7"/><circle cx="283.1" cy="200.3" r="2.7" fill="#c4c81e" stroke="#6e6e0c" stroke-width="0.7"/><circle cx="281.9" cy="203.1" r="2.7" fill="#c4c81e" stroke="#6e6e0c" stroke-width="0.7"/><circle cx="280.6" cy="205.8" r="2.7" fill="#c4c81e" stroke="#6e6e0c" stroke-width="0.7"/><circle cx="279.1" cy="208.5" r="2.7" fill="#c4c81e" stroke="#6e6e0c" stroke-width="0.7"/><circle cx="277.6" cy="211.1" r="2.7" fill="#c4c81e" stroke="#6e6e0c" stroke-width="0.7"/><circle cx="275.9" cy="213.7" r="2.7" fill="#c4c81e" stroke="#6e6e0c" stroke-width="0.7"/><circle cx="274.1" cy="216.2" r="2.7" fill="#c4c81e" stroke="#6e6e0c" stroke-width="0.7"/><circle cx="272.3" cy="218.6" r="2.7" fill="#c4c81e" stroke="#6e6e0c" stroke-width="0.7"/><circle cx="270.3" cy="220.9" r="2.7" fill="#c4c81e" stroke="#6e6e0c" stroke-width="0.7"/><circle cx="268.2" cy="223.1" r="2.7" fill="#c4c81e" stroke="#6e6e0c" stroke-width="0.7"/><circle cx="266.0" cy="225.3" r="2.7" fill="#c4c81e" stroke="#6e6e0c" stroke-width="0.7"/><circle cx="263.8" cy="227.3" r="2.7" fill="#c4c81e" stroke="#6e6e0c" stroke-width="0.7"/><circle cx="261.4" cy="229.3" r="2.7" fill="#c4c81e" stroke="#6e6e0c" stroke-width="0.7"/><circle cx="259.0" cy="231.1" r="2.7" fill="#c4c81e" stroke="#6e6e0c" stroke-width="0.7"/><circle cx="256.5" cy="232.9" r="2.7" fill="#c4c81e" stroke="#6e6e0c" stroke-width="0.7"/><circle cx="253.9" cy="234.5" r="2.7" fill="#c4c81e" stroke="#6e6e0c" stroke-width="0.7"/><circle cx="251.3" cy="236.0" r="2.7" fill="#c4c81e" stroke="#6e6e0c" stroke-width="0.7"/><circle cx="248.6" cy="237.4" r="2.7" fill="#c4c81e" stroke="#6e6e0c" stroke-width="0.7"/><circle cx="245.8" cy="238.7" r="2.7" fill="#c4c81e" stroke="#6e6e0c" stroke-width="0.7"/><circle cx="243.0" cy="239.9" r="2.7" fill="#c4c81e" stroke="#6e6e0c" stroke-width="0.7"/><circle cx="240.2" cy="240.9" r="2.7" fill="#c4c81e" stroke="#6e6e0c" stroke-width="0.7"/><circle cx="237.3" cy="241.9" r="2.7" fill="#c4c81e" stroke="#6e6e0c" stroke-width="0.7"/><circle cx="234.3" cy="242.7" r="2.7" fill="#c4c81e" stroke="#6e6e0c" stroke-width="0.7"/><circle cx="231.3" cy="243.3" r="2.7" fill="#c4c81e" stroke="#6e6e0c" stroke-width="0.7"/><circle cx="228.3" cy="243.9" r="2.7" fill="#c4c81e" stroke="#6e6e0c" stroke-width="0.7"/><circle cx="225.3" cy="244.3" r="2.7" fill="#c4c81e" stroke="#6e6e0c" stroke-width="0.7"/><circle cx="222.3" cy="244.6" r="2.7" fill="#c4c81e" stroke="#6e6e0c" stroke-width="0.7"/><circle cx="219.2" cy="244.8" r="2.7" fill="#c4c81e" stroke="#6e6e0c" stroke-width="0.7"/><circle cx="203.6" cy="243.5" r="3.2" fill="#c4c81e" stroke="#6e6e0c" stroke-width="0.7"/><circle cx="192.4" cy="240.4" r="3.2" fill="#c4c81e" stroke="#6e6e0c" stroke-width="0.7"/><circle cx="183.5" cy="236.5" r="3.2" fill="#c4c81e" stroke="#6e6e0c" stroke-width="0.7"/><circle cx="166.6" cy="223.9" r="3.2" fill="#c4c81e" stroke="#6e6e0c" stroke-width="0.7"/><circle cx="155.4" cy="209.5" r="3.2" fill="#c4c81e" stroke="#6e6e0c" stroke-width="0.7"/><circle cx="151.8" cy="202.3" r="3.2" fill="#c4c81e" stroke="#6e6e0c" stroke-width="0.7"/><circle cx="145.7" cy="175.5" r="3.2" fill="#c4c81e" stroke="#6e6e0c" stroke-width="0.7"/><circle cx="152.8" cy="142.5" r="2.7" fill="#c4c81e" stroke="#6e6e0c" stroke-width="0.7"/><circle cx="154.2" cy="139.8" r="2.7" fill="#c4c81e" stroke="#6e6e0c" stroke-width="0.7"/><circle cx="155.7" cy="137.1" r="2.7" fill="#c4c81e" stroke="#6e6e0c" stroke-width="0.7"/><circle cx="157.3" cy="134.5" r="2.7" fill="#c4c81e" stroke="#6e6e0c" stroke-width="0.7"/><circle cx="159.0" cy="132.0" r="2.7" fill="#c4c81e" stroke="#6e6e0c" stroke-width="0.7"/><circle cx="160.9" cy="129.6" r="2.7" fill="#c4c81e" stroke="#6e6e0c" stroke-width="0.7"/><circle cx="162.8" cy="127.2" r="2.7" fill="#c4c81e" stroke="#6e6e0c" stroke-width="0.7"/><circle cx="164.8" cy="124.9" r="2.7" fill="#c4c81e" stroke="#6e6e0c" stroke-width="0.7"/><circle cx="166.9" cy="122.7" r="2.7" fill="#c4c81e" stroke="#6e6e0c" stroke-width="0.7"/><circle cx="169.2" cy="120.6" r="2.7" fill="#c4c81e" stroke="#6e6e0c" stroke-width="0.7"/><circle cx="171.5" cy="118.6" r="2.7" fill="#c4c81e" stroke="#6e6e0c" stroke-width="0.7"/><circle cx="173.8" cy="116.7" r="2.7" fill="#c4c81e" stroke="#6e6e0c" stroke-width="0.7"/><circle cx="176.3" cy="115.0" r="2.7" fill="#c4c81e" stroke="#6e6e0c" stroke-width="0.7"/><circle cx="178.8" cy="113.3" r="2.7" fill="#c4c81e" stroke="#6e6e0c" stroke-width="0.7"/><circle cx="181.5" cy="111.7" r="2.7" fill="#c4c81e" stroke="#6e6e0c" stroke-width="0.7"/><circle cx="184.1" cy="110.2" r="2.7" fill="#c4c81e" stroke="#6e6e0c" stroke-width="0.7"/><circle cx="186.9" cy="108.9" r="2.7" fill="#c4c81e" stroke="#6e6e0c" stroke-width="0.7"/><circle cx="189.7" cy="107.7" r="2.7" fill="#c4c81e" stroke="#6e6e0c" stroke-width="0.7"/><circle cx="192.5" cy="106.5" r="2.7" fill="#c4c81e" stroke="#6e6e0c" stroke-width="0.7"/><circle cx="195.4" cy="105.6" r="2.7" fill="#c4c81e" stroke="#6e6e0c" stroke-width="0.7"/><circle cx="198.3" cy="104.7" r="2.7" fill="#c4c81e" stroke="#6e6e0c" stroke-width="0.7"/><circle cx="201.3" cy="104.0" r="2.7" fill="#c4c81e" stroke="#6e6e0c" stroke-width="0.7"/><circle cx="204.3" cy="103.3" r="2.7" fill="#c4c81e" stroke="#6e6e0c" stroke-width="0.7"/><circle cx="218.2" cy="102.2" r="3.2" fill="#c4c81e" stroke="#6e6e0c" stroke-width="0.7"/><circle cx="237.3" cy="105.1" r="3.2" fill="#c4c81e" stroke="#6e6e0c" stroke-width="0.7"/><circle cx="250.5" cy="110.5" r="3.2" fill="#c4c81e" stroke="#6e6e0c" stroke-width="0.7"/><circle cx="254.4" cy="112.8" r="3.2" fill="#c4c81e" stroke="#6e6e0c" stroke-width="0.7"/><circle cx="266.5" cy="122.2" r="3.2" fill="#c4c81e" stroke="#6e6e0c" stroke-width="0.7"/><circle cx="274.2" cy="131.0" r="2.7" fill="#c4c81e" stroke="#6e6e0c" stroke-width="0.7"/><circle cx="276.0" cy="133.5" r="2.7" fill="#c4c81e" stroke="#6e6e0c" stroke-width="0.7"/><circle cx="277.7" cy="136.0" r="2.7" fill="#c4c81e" stroke="#6e6e0c" stroke-width="0.7"/><circle cx="279.2" cy="138.7" r="2.7" fill="#c4c81e" stroke="#6e6e0c" stroke-width="0.7"/><circle cx="280.6" cy="141.4" r="2.7" fill="#c4c81e" stroke="#6e6e0c" stroke-width="0.7"/><circle cx="282.0" cy="144.1" r="2.7" fill="#c4c81e" stroke="#6e6e0c" stroke-width="0.7"/><circle cx="283.2" cy="146.9" r="2.7" fill="#c4c81e" stroke="#6e6e0c" stroke-width="0.7"/><circle cx="284.2" cy="149.8" r="2.7" fill="#c4c81e" stroke="#6e6e0c" stroke-width="0.7"/><circle cx="285.2" cy="152.7" r="2.7" fill="#c4c81e" stroke="#6e6e0c" stroke-width="0.7"/><circle cx="286.0" cy="155.6" r="2.7" fill="#c4c81e" stroke="#6e6e0c" stroke-width="0.7"/><circle cx="286.7" cy="158.6" r="2.7" fill="#c4c81e" stroke="#6e6e0c" stroke-width="0.7"/><circle cx="287.3" cy="161.5" r="2.7" fill="#c4c81e" stroke="#6e6e0c" stroke-width="0.7"/><circle cx="287.7" cy="164.6" r="2.7" fill="#c4c81e" stroke="#6e6e0c" stroke-width="0.7"/><circle cx="288.1" cy="167.6" r="2.7" fill="#c4c81e" stroke="#6e6e0c" stroke-width="0.7"/><circle cx="288.2" cy="170.6" r="2.7" fill="#c4c81e" stroke="#6e6e0c" stroke-width="0.7"/><circle cx="303.0" cy="173.5" r="2.75" fill="#c4c81e" stroke="#6e6e0c" stroke-width="0.7"/><circle cx="302.9" cy="177.0" r="2.75" fill="#c4c81e" stroke="#6e6e0c" stroke-width="0.7"/><circle cx="302.7" cy="180.4" r="2.75" fill="#c4c81e" stroke="#6e6e0c" stroke-width="0.7"/><circle cx="302.4" cy="183.8" r="2.75" fill="#c4c81e" stroke="#6e6e0c" stroke-width="0.7"/><circle cx="301.9" cy="187.2" r="2.75" fill="#c4c81e" stroke="#6e6e0c" stroke-width="0.7"/><circle cx="301.3" cy="190.6" r="2.75" fill="#c4c81e" stroke="#6e6e0c" stroke-width="0.7"/><circle cx="300.5" cy="194.0" r="2.75" fill="#c4c81e" stroke="#6e6e0c" stroke-width="0.7"/><circle cx="299.6" cy="197.3" r="2.75" fill="#c4c81e" stroke="#6e6e0c" stroke-width="0.7"/><circle cx="298.6" cy="200.6" r="2.75" fill="#c4c81e" stroke="#6e6e0c" stroke-width="0.7"/><circle cx="297.4" cy="203.9" r="2.75" fill="#c4c81e" stroke="#6e6e0c" stroke-width="0.7"/><circle cx="296.2" cy="207.1" r="2.75" fill="#c4c81e" stroke="#6e6e0c" stroke-width="0.7"/><circle cx="294.8" cy="210.3" r="2.75" fill="#c4c81e" stroke="#6e6e0c" stroke-width="0.7"/><circle cx="293.2" cy="213.3" r="2.75" fill="#c4c81e" stroke="#6e6e0c" stroke-width="0.7"/><circle cx="291.6" cy="216.4" r="2.75" fill="#c4c81e" stroke="#6e6e0c" stroke-width="0.7"/><circle cx="289.8" cy="219.3" r="2.75" fill="#c4c81e" stroke="#6e6e0c" stroke-width="0.7"/><circle cx="287.9" cy="222.2" r="2.75" fill="#c4c81e" stroke="#6e6e0c" stroke-width="0.7"/><circle cx="285.9" cy="225.0" r="2.75" fill="#c4c81e" stroke="#6e6e0c" stroke-width="0.7"/><circle cx="283.7" cy="227.7" r="2.75" fill="#c4c81e" stroke="#6e6e0c" stroke-width="0.7"/><circle cx="281.5" cy="230.4" r="2.75" fill="#c4c81e" stroke="#6e6e0c" stroke-width="0.7"/><circle cx="279.2" cy="232.9" r="2.75" fill="#c4c81e" stroke="#6e6e0c" stroke-width="0.7"/><circle cx="276.7" cy="235.4" r="2.75" fill="#c4c81e" stroke="#6e6e0c" stroke-width="0.7"/><circle cx="274.2" cy="237.7" r="2.75" fill="#c4c81e" stroke="#6e6e0c" stroke-width="0.7"/><circle cx="271.6" cy="240.0" r="2.75" fill="#c4c81e" stroke="#6e6e0c" stroke-width="0.7"/><circle cx="268.9" cy="242.1" r="2.75" fill="#c4c81e" stroke="#6e6e0c" stroke-width="0.7"/><circle cx="266.1" cy="244.1" r="2.75" fill="#c4c81e" stroke="#6e6e0c" stroke-width="0.7"/><circle cx="263.2" cy="246.0" r="2.75" fill="#c4c81e" stroke="#6e6e0c" stroke-width="0.7"/><circle cx="260.3" cy="247.8" r="2.75" fill="#c4c81e" stroke="#6e6e0c" stroke-width="0.7"/><circle cx="257.2" cy="249.5" r="2.75" fill="#c4c81e" stroke="#6e6e0c" stroke-width="0.7"/><circle cx="254.2" cy="251.1" r="2.75" fill="#c4c81e" stroke="#6e6e0c" stroke-width="0.7"/><circle cx="251.0" cy="252.5" r="2.75" fill="#c4c81e" stroke="#6e6e0c" stroke-width="0.7"/><circle cx="247.8" cy="253.8" r="2.75" fill="#c4c81e" stroke="#6e6e0c" stroke-width="0.7"/><circle cx="244.6" cy="255.0" r="2.75" fill="#c4c81e" stroke="#6e6e0c" stroke-width="0.7"/><circle cx="241.3" cy="256.0" r="2.75" fill="#c4c81e" stroke="#6e6e0c" stroke-width="0.7"/><circle cx="238.0" cy="256.9" r="2.75" fill="#c4c81e" stroke="#6e6e0c" stroke-width="0.7"/><circle cx="234.6" cy="257.7" r="2.75" fill="#c4c81e" stroke="#6e6e0c" stroke-width="0.7"/><circle cx="231.2" cy="258.3" r="2.75" fill="#c4c81e" stroke="#6e6e0c" stroke-width="0.7"/><circle cx="227.8" cy="258.8" r="2.75" fill="#c4c81e" stroke="#6e6e0c" stroke-width="0.7"/><circle cx="224.3" cy="259.2" r="2.75" fill="#c4c81e" stroke="#6e6e0c" stroke-width="0.7"/><circle cx="220.9" cy="259.4" r="2.75" fill="#c4c81e" stroke="#6e6e0c" stroke-width="0.7"/><circle cx="217.5" cy="259.5" r="2.75" fill="#c4c81e" stroke="#6e6e0c" stroke-width="0.7"/><circle cx="214.0" cy="259.4" r="2.75" fill="#c4c81e" stroke="#6e6e0c" stroke-width="0.7"/><circle cx="210.6" cy="259.3" r="2.75" fill="#c4c81e" stroke="#6e6e0c" stroke-width="0.7"/><circle cx="207.1" cy="258.9" r="2.75" fill="#c4c81e" stroke="#6e6e0c" stroke-width="0.7"/><circle cx="203.7" cy="258.5" r="2.75" fill="#c4c81e" stroke="#6e6e0c" stroke-width="0.7"/><circle cx="200.3" cy="257.9" r="2.75" fill="#c4c81e" stroke="#6e6e0c" stroke-width="0.7"/><circle cx="196.9" cy="257.1" r="2.75" fill="#c4c81e" stroke="#6e6e0c" stroke-width="0.7"/><circle cx="193.6" cy="256.3" r="2.75" fill="#c4c81e" stroke="#6e6e0c" stroke-width="0.7"/><circle cx="190.3" cy="255.2" r="2.75" fill="#c4c81e" stroke="#6e6e0c" stroke-width="0.7"/><circle cx="187.0" cy="254.1" r="2.75" fill="#c4c81e" stroke="#6e6e0c" stroke-width="0.7"/><circle cx="183.8" cy="252.8" r="2.75" fill="#c4c81e" stroke="#6e6e0c" stroke-width="0.7"/><circle cx="180.7" cy="251.4" r="2.75" fill="#c4c81e" stroke="#6e6e0c" stroke-width="0.7"/><circle cx="177.6" cy="249.9" r="2.75" fill="#c4c81e" stroke="#6e6e0c" stroke-width="0.7"/><circle cx="174.5" cy="248.3" r="2.75" fill="#c4c81e" stroke="#6e6e0c" stroke-width="0.7"/><circle cx="171.6" cy="246.5" r="2.75" fill="#c4c81e" stroke="#6e6e0c" stroke-width="0.7"/><circle cx="168.7" cy="244.6" r="2.75" fill="#c4c81e" stroke="#6e6e0c" stroke-width="0.7"/><circle cx="165.8" cy="242.6" r="2.75" fill="#c4c81e" stroke="#6e6e0c" stroke-width="0.7"/><circle cx="163.1" cy="240.5" r="2.75" fill="#c4c81e" stroke="#6e6e0c" stroke-width="0.7"/><circle cx="160.5" cy="238.3" r="2.75" fill="#c4c81e" stroke="#6e6e0c" stroke-width="0.7"/><circle cx="157.9" cy="236.0" r="2.75" fill="#c4c81e" stroke="#6e6e0c" stroke-width="0.7"/><circle cx="155.5" cy="233.6" r="2.75" fill="#c4c81e" stroke="#6e6e0c" stroke-width="0.7"/><circle cx="153.1" cy="231.0" r="2.75" fill="#c4c81e" stroke="#6e6e0c" stroke-width="0.7"/><circle cx="150.8" cy="228.4" r="2.75" fill="#c4c81e" stroke="#6e6e0c" stroke-width="0.7"/><circle cx="148.7" cy="225.7" r="2.75" fill="#c4c81e" stroke="#6e6e0c" stroke-width="0.7"/><circle cx="146.6" cy="223.0" r="2.75" fill="#c4c81e" stroke="#6e6e0c" stroke-width="0.7"/><circle cx="144.7" cy="220.1" r="2.75" fill="#c4c81e" stroke="#6e6e0c" stroke-width="0.7"/><circle cx="142.9" cy="217.1" r="2.75" fill="#c4c81e" stroke="#6e6e0c" stroke-width="0.7"/><circle cx="141.2" cy="214.1" r="2.75" fill="#c4c81e" stroke="#6e6e0c" stroke-width="0.7"/><circle cx="139.6" cy="211.1" r="2.75" fill="#c4c81e" stroke="#6e6e0c" stroke-width="0.7"/><circle cx="138.2" cy="207.9" r="2.75" fill="#c4c81e" stroke="#6e6e0c" stroke-width="0.7"/><circle cx="136.9" cy="204.7" r="2.75" fill="#c4c81e" stroke="#6e6e0c" stroke-width="0.7"/><circle cx="135.7" cy="201.5" r="2.75" fill="#c4c81e" stroke="#6e6e0c" stroke-width="0.7"/><circle cx="134.6" cy="198.2" r="2.75" fill="#c4c81e" stroke="#6e6e0c" stroke-width="0.7"/><circle cx="133.7" cy="194.9" r="2.75" fill="#c4c81e" stroke="#6e6e0c" stroke-width="0.7"/><circle cx="132.9" cy="191.5" r="2.75" fill="#c4c81e" stroke="#6e6e0c" stroke-width="0.7"/><circle cx="132.3" cy="188.1" r="2.75" fill="#c4c81e" stroke="#6e6e0c" stroke-width="0.7"/><circle cx="131.7" cy="184.7" r="2.75" fill="#c4c81e" stroke="#6e6e0c" stroke-width="0.7"/><circle cx="131.4" cy="181.3" r="2.75" fill="#c4c81e" stroke="#6e6e0c" stroke-width="0.7"/><circle cx="131.1" cy="177.9" r="2.75" fill="#c4c81e" stroke="#6e6e0c" stroke-width="0.7"/><circle cx="131.0" cy="174.4" r="2.75" fill="#c4c81e" stroke="#6e6e0c" stroke-width="0.7"/><circle cx="131.0" cy="170.9" r="2.75" fill="#c4c81e" stroke="#6e6e0c" stroke-width="0.7"/><circle cx="131.2" cy="167.5" r="2.75" fill="#c4c81e" stroke="#6e6e0c" stroke-width="0.7"/><circle cx="131.5" cy="164.1" r="2.75" fill="#c4c81e" stroke="#6e6e0c" stroke-width="0.7"/><circle cx="132.0" cy="160.6" r="2.75" fill="#c4c81e" stroke="#6e6e0c" stroke-width="0.7"/><circle cx="132.6" cy="157.2" r="2.75" fill="#c4c81e" stroke="#6e6e0c" stroke-width="0.7"/><circle cx="133.3" cy="153.9" r="2.75" fill="#c4c81e" stroke="#6e6e0c" stroke-width="0.7"/><circle cx="134.1" cy="150.5" r="2.75" fill="#c4c81e" stroke="#6e6e0c" stroke-width="0.7"/><circle cx="135.1" cy="147.2" r="2.75" fill="#c4c81e" stroke="#6e6e0c" stroke-width="0.7"/><circle cx="136.2" cy="143.9" r="2.75" fill="#c4c81e" stroke="#6e6e0c" stroke-width="0.7"/><circle cx="137.5" cy="140.7" r="2.75" fill="#c4c81e" stroke="#6e6e0c" stroke-width="0.7"/><circle cx="138.9" cy="137.6" r="2.75" fill="#c4c81e" stroke="#6e6e0c" stroke-width="0.7"/><circle cx="140.4" cy="134.5" r="2.75" fill="#c4c81e" stroke="#6e6e0c" stroke-width="0.7"/><circle cx="142.0" cy="131.4" r="2.75" fill="#c4c81e" stroke="#6e6e0c" stroke-width="0.7"/><circle cx="143.8" cy="128.4" r="2.75" fill="#c4c81e" stroke="#6e6e0c" stroke-width="0.7"/><circle cx="145.6" cy="125.5" r="2.75" fill="#c4c81e" stroke="#6e6e0c" stroke-width="0.7"/><circle cx="147.6" cy="122.7" r="2.75" fill="#c4c81e" stroke="#6e6e0c" stroke-width="0.7"/><circle cx="149.7" cy="120.0" r="2.75" fill="#c4c81e" stroke="#6e6e0c" stroke-width="0.7"/><circle cx="151.9" cy="117.3" r="2.75" fill="#c4c81e" stroke="#6e6e0c" stroke-width="0.7"/><circle cx="154.2" cy="114.7" r="2.75" fill="#c4c81e" stroke="#6e6e0c" stroke-width="0.7"/><circle cx="156.6" cy="112.3" r="2.75" fill="#c4c81e" stroke="#6e6e0c" stroke-width="0.7"/><circle cx="159.1" cy="109.9" r="2.75" fill="#c4c81e" stroke="#6e6e0c" stroke-width="0.7"/><circle cx="161.7" cy="107.6" r="2.75" fill="#c4c81e" stroke="#6e6e0c" stroke-width="0.7"/><circle cx="164.4" cy="105.5" r="2.75" fill="#c4c81e" stroke="#6e6e0c" stroke-width="0.7"/><circle cx="167.2" cy="103.4" r="2.75" fill="#c4c81e" stroke="#6e6e0c" stroke-width="0.7"/><circle cx="170.0" cy="101.5" r="2.75" fill="#c4c81e" stroke="#6e6e0c" stroke-width="0.7"/><circle cx="173.0" cy="99.6" r="2.75" fill="#c4c81e" stroke="#6e6e0c" stroke-width="0.7"/><circle cx="176.0" cy="97.9" r="2.75" fill="#c4c81e" stroke="#6e6e0c" stroke-width="0.7"/><circle cx="179.0" cy="96.3" r="2.75" fill="#c4c81e" stroke="#6e6e0c" stroke-width="0.7"/><circle cx="182.2" cy="94.9" r="2.75" fill="#c4c81e" stroke="#6e6e0c" stroke-width="0.7"/><circle cx="185.3" cy="93.5" r="2.75" fill="#c4c81e" stroke="#6e6e0c" stroke-width="0.7"/><circle cx="188.6" cy="92.3" r="2.75" fill="#c4c81e" stroke="#6e6e0c" stroke-width="0.7"/><circle cx="191.9" cy="91.3" r="2.75" fill="#c4c81e" stroke="#6e6e0c" stroke-width="0.7"/><circle cx="195.2" cy="90.3" r="2.75" fill="#c4c81e" stroke="#6e6e0c" stroke-width="0.7"/><circle cx="198.5" cy="89.5" r="2.75" fill="#c4c81e" stroke="#6e6e0c" stroke-width="0.7"/><circle cx="201.9" cy="88.8" r="2.75" fill="#c4c81e" stroke="#6e6e0c" stroke-width="0.7"/><circle cx="218.5" cy="87.5" r="3.2" fill="#c4c81e" stroke="#6e6e0c" stroke-width="0.7"/><circle cx="237.2" cy="89.9" r="3.2" fill="#c4c81e" stroke="#6e6e0c" stroke-width="0.7"/><circle cx="247.8" cy="93.2" r="3.2" fill="#c4c81e" stroke="#6e6e0c" stroke-width="0.7"/><circle cx="256.0" cy="96.9" r="3.2" fill="#c4c81e" stroke="#6e6e0c" stroke-width="0.7"/><circle cx="262.6" cy="100.6" r="3.2" fill="#c4c81e" stroke="#6e6e0c" stroke-width="0.7"/><circle cx="270.2" cy="105.9" r="2.75" fill="#c4c81e" stroke="#6e6e0c" stroke-width="0.7"/><circle cx="272.9" cy="108.1" r="2.75" fill="#c4c81e" stroke="#6e6e0c" stroke-width="0.7"/><circle cx="275.4" cy="110.4" r="2.75" fill="#c4c81e" stroke="#6e6e0c" stroke-width="0.7"/><circle cx="277.9" cy="112.8" r="2.75" fill="#c4c81e" stroke="#6e6e0c" stroke-width="0.7"/><circle cx="280.3" cy="115.3" r="2.75" fill="#c4c81e" stroke="#6e6e0c" stroke-width="0.7"/><circle cx="282.6" cy="117.9" r="2.75" fill="#c4c81e" stroke="#6e6e0c" stroke-width="0.7"/><circle cx="284.8" cy="120.6" r="2.75" fill="#c4c81e" stroke="#6e6e0c" stroke-width="0.7"/><circle cx="286.8" cy="123.3" r="2.75" fill="#c4c81e" stroke="#6e6e0c" stroke-width="0.7"/><circle cx="288.8" cy="126.2" r="2.75" fill="#c4c81e" stroke="#6e6e0c" stroke-width="0.7"/><circle cx="290.6" cy="129.1" r="2.75" fill="#c4c81e" stroke="#6e6e0c" stroke-width="0.7"/><circle cx="292.4" cy="132.1" r="2.75" fill="#c4c81e" stroke="#6e6e0c" stroke-width="0.7"/><circle cx="294.0" cy="135.1" r="2.75" fill="#c4c81e" stroke="#6e6e0c" stroke-width="0.7"/><circle cx="295.4" cy="138.2" r="2.75" fill="#c4c81e" stroke="#6e6e0c" stroke-width="0.7"/><circle cx="296.8" cy="141.4" r="2.75" fill="#c4c81e" stroke="#6e6e0c" stroke-width="0.7"/><circle cx="298.0" cy="144.7" r="2.75" fill="#c4c81e" stroke="#6e6e0c" stroke-width="0.7"/><circle cx="299.1" cy="147.9" r="2.75" fill="#c4c81e" stroke="#6e6e0c" stroke-width="0.7"/><circle cx="300.1" cy="151.2" r="2.75" fill="#c4c81e" stroke="#6e6e0c" stroke-width="0.7"/><circle cx="300.9" cy="154.6" r="2.75" fill="#c4c81e" stroke="#6e6e0c" stroke-width="0.7"/><circle cx="301.6" cy="158.0" r="2.75" fill="#c4c81e" stroke="#6e6e0c" stroke-width="0.7"/><circle cx="302.1" cy="161.4" r="2.75" fill="#c4c81e" stroke="#6e6e0c" stroke-width="0.7"/><circle cx="302.6" cy="164.8" r="2.75" fill="#c4c81e" stroke="#6e6e0c" stroke-width="0.7"/><circle cx="302.8" cy="168.2" r="2.75" fill="#c4c81e" stroke="#6e6e0c" stroke-width="0.7"/><circle cx="303.0" cy="171.7" r="2.75" fill="#c4c81e" stroke="#6e6e0c" stroke-width="0.7"/><circle cx="317.0" cy="173.5" r="2.75" fill="#c4c81e" stroke="#6e6e0c" stroke-width="0.7"/><circle cx="317.0" cy="176.3" r="2.75" fill="#c4c81e" stroke="#6e6e0c" stroke-width="0.7"/><circle cx="316.8" cy="179.1" r="2.75" fill="#c4c81e" stroke="#6e6e0c" stroke-width="0.7"/><circle cx="316.6" cy="181.9" r="2.75" fill="#c4c81e" stroke="#6e6e0c" stroke-width="0.7"/><circle cx="316.4" cy="184.6" r="2.75" fill="#c4c81e" stroke="#6e6e0c" stroke-width="0.7"/><circle cx="316.0" cy="187.4" r="2.75" fill="#c4c81e" stroke="#6e6e0c" stroke-width="0.7"/><circle cx="315.6" cy="190.2" r="2.75" fill="#c4c81e" stroke="#6e6e0c" stroke-width="0.7"/><circle cx="315.1" cy="192.9" r="2.75" fill="#c4c81e" stroke="#6e6e0c" stroke-width="0.7"/><circle cx="314.5" cy="195.7" r="2.75" fill="#c4c81e" stroke="#6e6e0c" stroke-width="0.7"/><circle cx="313.9" cy="198.4" r="2.75" fill="#c4c81e" stroke="#6e6e0c" stroke-width="0.7"/><circle cx="313.1" cy="201.1" r="2.75" fill="#c4c81e" stroke="#6e6e0c" stroke-width="0.7"/><circle cx="312.3" cy="203.7" r="2.75" fill="#c4c81e" stroke="#6e6e0c" stroke-width="0.7"/><circle cx="311.4" cy="206.4" r="2.75" fill="#c4c81e" stroke="#6e6e0c" stroke-width="0.7"/><circle cx="310.5" cy="209.0" r="2.75" fill="#c4c81e" stroke="#6e6e0c" stroke-width="0.7"/><circle cx="309.5" cy="211.6" r="2.75" fill="#c4c81e" stroke="#6e6e0c" stroke-width="0.7"/><circle cx="308.4" cy="214.2" r="2.75" fill="#c4c81e" stroke="#6e6e0c" stroke-width="0.7"/><circle cx="307.2" cy="216.7" r="2.75" fill="#c4c81e" stroke="#6e6e0c" stroke-width="0.7"/><circle cx="305.9" cy="219.2" r="2.75" fill="#c4c81e" stroke="#6e6e0c" stroke-width="0.7"/><circle cx="304.6" cy="221.7" r="2.75" fill="#c4c81e" stroke="#6e6e0c" stroke-width="0.7"/><circle cx="303.3" cy="224.1" r="2.75" fill="#c4c81e" stroke="#6e6e0c" stroke-width="0.7"/><circle cx="301.8" cy="226.5" r="2.75" fill="#c4c81e" stroke="#6e6e0c" stroke-width="0.7"/><circle cx="300.3" cy="228.8" r="2.75" fill="#c4c81e" stroke="#6e6e0c" stroke-width="0.7"/><circle cx="298.7" cy="231.1" r="2.75" fill="#c4c81e" stroke="#6e6e0c" stroke-width="0.7"/><circle cx="297.1" cy="233.4" r="2.75" fill="#c4c81e" stroke="#6e6e0c" stroke-width="0.7"/><circle cx="295.4" cy="235.6" r="2.75" fill="#c4c81e" stroke="#6e6e0c" stroke-width="0.7"/><circle cx="293.6" cy="237.8" r="2.75" fill="#c4c81e" stroke="#6e6e0c" stroke-width="0.7"/><circle cx="291.8" cy="239.9" r="2.75" fill="#c4c81e" stroke="#6e6e0c" stroke-width="0.7"/><circle cx="289.9" cy="242.0" r="2.75" fill="#c4c81e" stroke="#6e6e0c" stroke-width="0.7"/><circle cx="288.0" cy="244.0" r="2.75" fill="#c4c81e" stroke="#6e6e0c" stroke-width="0.7"/><circle cx="286.0" cy="245.9" r="2.75" fill="#c4c81e" stroke="#6e6e0c" stroke-width="0.7"/><circle cx="283.9" cy="247.8" r="2.75" fill="#c4c81e" stroke="#6e6e0c" stroke-width="0.7"/><circle cx="281.8" cy="249.7" r="2.75" fill="#c4c81e" stroke="#6e6e0c" stroke-width="0.7"/><circle cx="279.7" cy="251.4" r="2.75" fill="#c4c81e" stroke="#6e6e0c" stroke-width="0.7"/><circle cx="277.5" cy="253.2" r="2.75" fill="#c4c81e" stroke="#6e6e0c" stroke-width="0.7"/><circle cx="275.2" cy="254.8" r="2.75" fill="#c4c81e" stroke="#6e6e0c" stroke-width="0.7"/><circle cx="272.9" cy="256.4" r="2.75" fill="#c4c81e" stroke="#6e6e0c" stroke-width="0.7"/><circle cx="270.6" cy="257.9" r="2.75" fill="#c4c81e" stroke="#6e6e0c" stroke-width="0.7"/><circle cx="268.2" cy="259.4" r="2.75" fill="#c4c81e" stroke="#6e6e0c" stroke-width="0.7"/><circle cx="265.8" cy="260.8" r="2.75" fill="#c4c81e" stroke="#6e6e0c" stroke-width="0.7"/><circle cx="263.3" cy="262.1" r="2.75" fill="#c4c81e" stroke="#6e6e0c" stroke-width="0.7"/><circle cx="260.8" cy="263.4" r="2.75" fill="#c4c81e" stroke="#6e6e0c" stroke-width="0.7"/><circle cx="258.3" cy="264.6" r="2.75" fill="#c4c81e" stroke="#6e6e0c" stroke-width="0.7"/><circle cx="255.8" cy="265.7" r="2.75" fill="#c4c81e" stroke="#6e6e0c" stroke-width="0.7"/><circle cx="253.2" cy="266.7" r="2.75" fill="#c4c81e" stroke="#6e6e0c" stroke-width="0.7"/><circle cx="250.5" cy="267.7" r="2.75" fill="#c4c81e" stroke="#6e6e0c" stroke-width="0.7"/><circle cx="247.9" cy="268.6" r="2.75" fill="#c4c81e" stroke="#6e6e0c" stroke-width="0.7"/><circle cx="245.2" cy="269.4" r="2.75" fill="#c4c81e" stroke="#6e6e0c" stroke-width="0.7"/><circle cx="242.5" cy="270.2" r="2.75" fill="#c4c81e" stroke="#6e6e0c" stroke-width="0.7"/><circle cx="239.8" cy="270.9" r="2.75" fill="#c4c81e" stroke="#6e6e0c" stroke-width="0.7"/><circle cx="237.1" cy="271.5" r="2.75" fill="#c4c81e" stroke="#6e6e0c" stroke-width="0.7"/><circle cx="234.4" cy="272.0" r="2.75" fill="#c4c81e" stroke="#6e6e0c" stroke-width="0.7"/><circle cx="231.6" cy="272.4" r="2.75" fill="#c4c81e" stroke="#6e6e0c" stroke-width="0.7"/><circle cx="228.8" cy="272.8" r="2.75" fill="#c4c81e" stroke="#6e6e0c" stroke-width="0.7"/><circle cx="226.1" cy="273.1" r="2.75" fill="#c4c81e" stroke="#6e6e0c" stroke-width="0.7"/><circle cx="223.3" cy="273.3" r="2.75" fill="#c4c81e" stroke="#6e6e0c" stroke-width="0.7"/><circle cx="220.5" cy="273.4" r="2.75" fill="#c4c81e" stroke="#6e6e0c" stroke-width="0.7"/><circle cx="217.7" cy="273.5" r="2.75" fill="#c4c81e" stroke="#6e6e0c" stroke-width="0.7"/><circle cx="214.9" cy="273.5" r="2.75" fill="#c4c81e" stroke="#6e6e0c" stroke-width="0.7"/><circle cx="212.1" cy="273.4" r="2.75" fill="#c4c81e" stroke="#6e6e0c" stroke-width="0.7"/><circle cx="209.3" cy="273.2" r="2.75" fill="#c4c81e" stroke="#6e6e0c" stroke-width="0.7"/><circle cx="206.5" cy="273.0" r="2.75" fill="#c4c81e" stroke="#6e6e0c" stroke-width="0.7"/><circle cx="203.8" cy="272.6" r="2.75" fill="#c4c81e" stroke="#6e6e0c" stroke-width="0.7"/><circle cx="201.0" cy="272.2" r="2.75" fill="#c4c81e" stroke="#6e6e0c" stroke-width="0.7"/><circle cx="198.3" cy="271.7" r="2.75" fill="#c4c81e" stroke="#6e6e0c" stroke-width="0.7"/><circle cx="195.5" cy="271.2" r="2.75" fill="#c4c81e" stroke="#6e6e0c" stroke-width="0.7"/><circle cx="192.8" cy="270.5" r="2.75" fill="#c4c81e" stroke="#6e6e0c" stroke-width="0.7"/><circle cx="190.1" cy="269.8" r="2.75" fill="#c4c81e" stroke="#6e6e0c" stroke-width="0.7"/><circle cx="187.4" cy="269.0" r="2.75" fill="#c4c81e" stroke="#6e6e0c" stroke-width="0.7"/><circle cx="184.8" cy="268.2" r="2.75" fill="#c4c81e" stroke="#6e6e0c" stroke-width="0.7"/><circle cx="182.1" cy="267.2" r="2.75" fill="#c4c81e" stroke="#6e6e0c" stroke-width="0.7"/><circle cx="179.5" cy="266.2" r="2.75" fill="#c4c81e" stroke="#6e6e0c" stroke-width="0.7"/><circle cx="177.0" cy="265.1" r="2.75" fill="#c4c81e" stroke="#6e6e0c" stroke-width="0.7"/><circle cx="174.4" cy="264.0" r="2.75" fill="#c4c81e" stroke="#6e6e0c" stroke-width="0.7"/><circle cx="171.9" cy="262.8" r="2.75" fill="#c4c81e" stroke="#6e6e0c" stroke-width="0.7"/><circle cx="169.4" cy="261.5" r="2.75" fill="#c4c81e" stroke="#6e6e0c" stroke-width="0.7"/><circle cx="167.0" cy="260.1" r="2.75" fill="#c4c81e" stroke="#6e6e0c" stroke-width="0.7"/><circle cx="164.6" cy="258.7" r="2.75" fill="#c4c81e" stroke="#6e6e0c" stroke-width="0.7"/><circle cx="162.2" cy="257.2" r="2.75" fill="#c4c81e" stroke="#6e6e0c" stroke-width="0.7"/><circle cx="159.9" cy="255.6" r="2.75" fill="#c4c81e" stroke="#6e6e0c" stroke-width="0.7"/><circle cx="157.7" cy="254.0" r="2.75" fill="#c4c81e" stroke="#6e6e0c" stroke-width="0.7"/><circle cx="155.4" cy="252.3" r="2.75" fill="#c4c81e" stroke="#6e6e0c" stroke-width="0.7"/><circle cx="153.3" cy="250.6" r="2.75" fill="#c4c81e" stroke="#6e6e0c" stroke-width="0.7"/><circle cx="151.1" cy="248.7" r="2.75" fill="#c4c81e" stroke="#6e6e0c" stroke-width="0.7"/><circle cx="149.1" cy="246.9" r="2.75" fill="#c4c81e" stroke="#6e6e0c" stroke-width="0.7"/><circle cx="147.0" cy="244.9" r="2.75" fill="#c4c81e" stroke="#6e6e0c" stroke-width="0.7"/><circle cx="145.1" cy="243.0" r="2.75" fill="#c4c81e" stroke="#6e6e0c" stroke-width="0.7"/><circle cx="143.2" cy="240.9" r="2.75" fill="#c4c81e" stroke="#6e6e0c" stroke-width="0.7"/><circle cx="141.3" cy="238.8" r="2.75" fill="#c4c81e" stroke="#6e6e0c" stroke-width="0.7"/><circle cx="139.5" cy="236.7" r="2.75" fill="#c4c81e" stroke="#6e6e0c" stroke-width="0.7"/><circle cx="137.8" cy="234.5" r="2.75" fill="#c4c81e" stroke="#6e6e0c" stroke-width="0.7"/><circle cx="136.1" cy="232.3" r="2.75" fill="#c4c81e" stroke="#6e6e0c" stroke-width="0.7"/><circle cx="134.5" cy="230.0" r="2.75" fill="#c4c81e" stroke="#6e6e0c" stroke-width="0.7"/><circle cx="132.9" cy="227.7" r="2.75" fill="#c4c81e" stroke="#6e6e0c" stroke-width="0.7"/><circle cx="131.5" cy="225.3" r="2.75" fill="#c4c81e" stroke="#6e6e0c" stroke-width="0.7"/><circle cx="130.1" cy="222.9" r="2.75" fill="#c4c81e" stroke="#6e6e0c" stroke-width="0.7"/><circle cx="128.7" cy="220.4" r="2.75" fill="#c4c81e" stroke="#6e6e0c" stroke-width="0.7"/><circle cx="127.4" cy="218.0" r="2.75" fill="#c4c81e" stroke="#6e6e0c" stroke-width="0.7"/><circle cx="126.2" cy="215.4" r="2.75" fill="#c4c81e" stroke="#6e6e0c" stroke-width="0.7"/><circle cx="125.1" cy="212.9" r="2.75" fill="#c4c81e" stroke="#6e6e0c" stroke-width="0.7"/><circle cx="124.0" cy="210.3" r="2.75" fill="#c4c81e" stroke="#6e6e0c" stroke-width="0.7"/><circle cx="123.0" cy="207.7" r="2.75" fill="#c4c81e" stroke="#6e6e0c" stroke-width="0.7"/><circle cx="122.1" cy="205.1" r="2.75" fill="#c4c81e" stroke="#6e6e0c" stroke-width="0.7"/><circle cx="121.3" cy="202.4" r="2.75" fill="#c4c81e" stroke="#6e6e0c" stroke-width="0.7"/><circle cx="120.5" cy="199.7" r="2.75" fill="#c4c81e" stroke="#6e6e0c" stroke-width="0.7"/><circle cx="119.8" cy="197.0" r="2.75" fill="#c4c81e" stroke="#6e6e0c" stroke-width="0.7"/><circle cx="119.2" cy="194.3" r="2.75" fill="#c4c81e" stroke="#6e6e0c" stroke-width="0.7"/><circle cx="118.6" cy="191.6" r="2.75" fill="#c4c81e" stroke="#6e6e0c" stroke-width="0.7"/><circle cx="118.2" cy="188.8" r="2.75" fill="#c4c81e" stroke="#6e6e0c" stroke-width="0.7"/><circle cx="117.8" cy="186.0" r="2.75" fill="#c4c81e" stroke="#6e6e0c" stroke-width="0.7"/><circle cx="117.5" cy="183.3" r="2.75" fill="#c4c81e" stroke="#6e6e0c" stroke-width="0.7"/><circle cx="117.2" cy="180.5" r="2.75" fill="#c4c81e" stroke="#6e6e0c" stroke-width="0.7"/><circle cx="117.1" cy="177.7" r="2.75" fill="#c4c81e" stroke="#6e6e0c" stroke-width="0.7"/><circle cx="117.0" cy="174.9" r="2.75" fill="#c4c81e" stroke="#6e6e0c" stroke-width="0.7"/><circle cx="117.0" cy="172.1" r="2.75" fill="#c4c81e" stroke="#6e6e0c" stroke-width="0.7"/><circle cx="117.1" cy="169.3" r="2.75" fill="#c4c81e" stroke="#6e6e0c" stroke-width="0.7"/><circle cx="117.2" cy="166.5" r="2.75" fill="#c4c81e" stroke="#6e6e0c" stroke-width="0.7"/><circle cx="117.5" cy="163.7" r="2.75" fill="#c4c81e" stroke="#6e6e0c" stroke-width="0.7"/><circle cx="117.8" cy="161.0" r="2.75" fill="#c4c81e" stroke="#6e6e0c" stroke-width="0.7"/><circle cx="118.2" cy="158.2" r="2.75" fill="#c4c81e" stroke="#6e6e0c" stroke-width="0.7"/><circle cx="118.6" cy="155.4" r="2.75" fill="#c4c81e" stroke="#6e6e0c" stroke-width="0.7"/><circle cx="119.2" cy="152.7" r="2.75" fill="#c4c81e" stroke="#6e6e0c" stroke-width="0.7"/><circle cx="119.8" cy="150.0" r="2.75" fill="#c4c81e" stroke="#6e6e0c" stroke-width="0.7"/><circle cx="120.5" cy="147.3" r="2.75" fill="#c4c81e" stroke="#6e6e0c" stroke-width="0.7"/><circle cx="121.3" cy="144.6" r="2.75" fill="#c4c81e" stroke="#6e6e0c" stroke-width="0.7"/><circle cx="122.1" cy="141.9" r="2.75" fill="#c4c81e" stroke="#6e6e0c" stroke-width="0.7"/><circle cx="123.0" cy="139.3" r="2.75" fill="#c4c81e" stroke="#6e6e0c" stroke-width="0.7"/><circle cx="124.0" cy="136.7" r="2.75" fill="#c4c81e" stroke="#6e6e0c" stroke-width="0.7"/><circle cx="125.1" cy="134.1" r="2.75" fill="#c4c81e" stroke="#6e6e0c" stroke-width="0.7"/><circle cx="126.2" cy="131.6" r="2.75" fill="#c4c81e" stroke="#6e6e0c" stroke-width="0.7"/><circle cx="127.4" cy="129.0" r="2.75" fill="#c4c81e" stroke="#6e6e0c" stroke-width="0.7"/><circle cx="128.7" cy="126.6" r="2.75" fill="#c4c81e" stroke="#6e6e0c" stroke-width="0.7"/><circle cx="130.1" cy="124.1" r="2.75" fill="#c4c81e" stroke="#6e6e0c" stroke-width="0.7"/><circle cx="131.5" cy="121.7" r="2.75" fill="#c4c81e" stroke="#6e6e0c" stroke-width="0.7"/><circle cx="132.9" cy="119.3" r="2.75" fill="#c4c81e" stroke="#6e6e0c" stroke-width="0.7"/><circle cx="134.5" cy="117.0" r="2.75" fill="#c4c81e" stroke="#6e6e0c" stroke-width="0.7"/><circle cx="136.1" cy="114.7" r="2.75" fill="#c4c81e" stroke="#6e6e0c" stroke-width="0.7"/><circle cx="137.8" cy="112.5" r="2.75" fill="#c4c81e" stroke="#6e6e0c" stroke-width="0.7"/><circle cx="139.5" cy="110.3" r="2.75" fill="#c4c81e" stroke="#6e6e0c" stroke-width="0.7"/><circle cx="141.3" cy="108.2" r="2.75" fill="#c4c81e" stroke="#6e6e0c" stroke-width="0.7"/><circle cx="143.2" cy="106.1" r="2.75" fill="#c4c81e" stroke="#6e6e0c" stroke-width="0.7"/><circle cx="145.1" cy="104.0" r="2.75" fill="#c4c81e" stroke="#6e6e0c" stroke-width="0.7"/><circle cx="147.0" cy="102.1" r="2.75" fill="#c4c81e" stroke="#6e6e0c" stroke-width="0.7"/><circle cx="149.1" cy="100.1" r="2.75" fill="#c4c81e" stroke="#6e6e0c" stroke-width="0.7"/><circle cx="151.1" cy="98.3" r="2.75" fill="#c4c81e" stroke="#6e6e0c" stroke-width="0.7"/><circle cx="153.3" cy="96.4" r="2.75" fill="#c4c81e" stroke="#6e6e0c" stroke-width="0.7"/><circle cx="155.4" cy="94.7" r="2.75" fill="#c4c81e" stroke="#6e6e0c" stroke-width="0.7"/><circle cx="157.7" cy="93.0" r="2.75" fill="#c4c81e" stroke="#6e6e0c" stroke-width="0.7"/><circle cx="159.9" cy="91.4" r="2.75" fill="#c4c81e" stroke="#6e6e0c" stroke-width="0.7"/><circle cx="162.2" cy="89.8" r="2.75" fill="#c4c81e" stroke="#6e6e0c" stroke-width="0.7"/><circle cx="164.6" cy="88.3" r="2.75" fill="#c4c81e" stroke="#6e6e0c" stroke-width="0.7"/><circle cx="167.0" cy="86.9" r="2.75" fill="#c4c81e" stroke="#6e6e0c" stroke-width="0.7"/><circle cx="169.4" cy="85.5" r="2.75" fill="#c4c81e" stroke="#6e6e0c" stroke-width="0.7"/><circle cx="171.9" cy="84.2" r="2.75" fill="#c4c81e" stroke="#6e6e0c" stroke-width="0.7"/><circle cx="174.4" cy="83.0" r="2.75" fill="#c4c81e" stroke="#6e6e0c" stroke-width="0.7"/><circle cx="177.0" cy="81.9" r="2.75" fill="#c4c81e" stroke="#6e6e0c" stroke-width="0.7"/><circle cx="179.5" cy="80.8" r="2.75" fill="#c4c81e" stroke="#6e6e0c" stroke-width="0.7"/><circle cx="182.1" cy="79.8" r="2.75" fill="#c4c81e" stroke="#6e6e0c" stroke-width="0.7"/><circle cx="184.8" cy="78.8" r="2.75" fill="#c4c81e" stroke="#6e6e0c" stroke-width="0.7"/><circle cx="187.4" cy="78.0" r="2.75" fill="#c4c81e" stroke="#6e6e0c" stroke-width="0.7"/><circle cx="190.1" cy="77.2" r="2.75" fill="#c4c81e" stroke="#6e6e0c" stroke-width="0.7"/><circle cx="192.8" cy="76.5" r="2.75" fill="#c4c81e" stroke="#6e6e0c" stroke-width="0.7"/><circle cx="195.5" cy="75.8" r="2.75" fill="#c4c81e" stroke="#6e6e0c" stroke-width="0.7"/><circle cx="198.3" cy="75.3" r="2.75" fill="#c4c81e" stroke="#6e6e0c" stroke-width="0.7"/><circle cx="201.0" cy="74.8" r="2.75" fill="#c4c81e" stroke="#6e6e0c" stroke-width="0.7"/><circle cx="203.8" cy="74.4" r="2.75" fill="#c4c81e" stroke="#6e6e0c" stroke-width="0.7"/><circle cx="206.5" cy="74.0" r="2.75" fill="#c4c81e" stroke="#6e6e0c" stroke-width="0.7"/><circle cx="209.3" cy="73.8" r="2.75" fill="#c4c81e" stroke="#6e6e0c" stroke-width="0.7"/><circle cx="212.1" cy="73.6" r="2.75" fill="#c4c81e" stroke="#6e6e0c" stroke-width="0.7"/><circle cx="214.9" cy="73.5" r="2.75" fill="#c4c81e" stroke="#6e6e0c" stroke-width="0.7"/><circle cx="217.7" cy="73.5" r="2.75" fill="#c4c81e" stroke="#6e6e0c" stroke-width="0.7"/><circle cx="220.5" cy="73.6" r="2.75" fill="#c4c81e" stroke="#6e6e0c" stroke-width="0.7"/><circle cx="223.3" cy="73.7" r="2.75" fill="#c4c81e" stroke="#6e6e0c" stroke-width="0.7"/><circle cx="226.1" cy="73.9" r="2.75" fill="#c4c81e" stroke="#6e6e0c" stroke-width="0.7"/><circle cx="228.8" cy="74.2" r="2.75" fill="#c4c81e" stroke="#6e6e0c" stroke-width="0.7"/><circle cx="231.6" cy="74.6" r="2.75" fill="#c4c81e" stroke="#6e6e0c" stroke-width="0.7"/><circle cx="234.4" cy="75.0" r="2.75" fill="#c4c81e" stroke="#6e6e0c" stroke-width="0.7"/><circle cx="237.1" cy="75.5" r="2.75" fill="#c4c81e" stroke="#6e6e0c" stroke-width="0.7"/><circle cx="239.8" cy="76.1" r="2.75" fill="#c4c81e" stroke="#6e6e0c" stroke-width="0.7"/><circle cx="242.5" cy="76.8" r="2.75" fill="#c4c81e" stroke="#6e6e0c" stroke-width="0.7"/><circle cx="245.2" cy="77.6" r="2.75" fill="#c4c81e" stroke="#6e6e0c" stroke-width="0.7"/><circle cx="247.9" cy="78.4" r="2.75" fill="#c4c81e" stroke="#6e6e0c" stroke-width="0.7"/><circle cx="250.5" cy="79.3" r="2.75" fill="#c4c81e" stroke="#6e6e0c" stroke-width="0.7"/><circle cx="253.2" cy="80.3" r="2.75" fill="#c4c81e" stroke="#6e6e0c" stroke-width="0.7"/><circle cx="255.8" cy="81.3" r="2.75" fill="#c4c81e" stroke="#6e6e0c" stroke-width="0.7"/><circle cx="258.3" cy="82.4" r="2.75" fill="#c4c81e" stroke="#6e6e0c" stroke-width="0.7"/><circle cx="260.8" cy="83.6" r="2.75" fill="#c4c81e" stroke="#6e6e0c" stroke-width="0.7"/><circle cx="263.3" cy="84.9" r="2.75" fill="#c4c81e" stroke="#6e6e0c" stroke-width="0.7"/><circle cx="265.8" cy="86.2" r="2.75" fill="#c4c81e" stroke="#6e6e0c" stroke-width="0.7"/><circle cx="268.2" cy="87.6" r="2.75" fill="#c4c81e" stroke="#6e6e0c" stroke-width="0.7"/><circle cx="270.6" cy="89.1" r="2.75" fill="#c4c81e" stroke="#6e6e0c" stroke-width="0.7"/><circle cx="272.9" cy="90.6" r="2.75" fill="#c4c81e" stroke="#6e6e0c" stroke-width="0.7"/><circle cx="275.2" cy="92.2" r="2.75" fill="#c4c81e" stroke="#6e6e0c" stroke-width="0.7"/><circle cx="277.5" cy="93.8" r="2.75" fill="#c4c81e" stroke="#6e6e0c" stroke-width="0.7"/><circle cx="279.7" cy="95.6" r="2.75" fill="#c4c81e" stroke="#6e6e0c" stroke-width="0.7"/><circle cx="281.8" cy="97.3" r="2.75" fill="#c4c81e" stroke="#6e6e0c" stroke-width="0.7"/><circle cx="283.9" cy="99.2" r="2.75" fill="#c4c81e" stroke="#6e6e0c" stroke-width="0.7"/><circle cx="286.0" cy="101.1" r="2.75" fill="#c4c81e" stroke="#6e6e0c" stroke-width="0.7"/><circle cx="288.0" cy="103.0" r="2.75" fill="#c4c81e" stroke="#6e6e0c" stroke-width="0.7"/><circle cx="289.9" cy="105.0" r="2.75" fill="#c4c81e" stroke="#6e6e0c" stroke-width="0.7"/><circle cx="291.8" cy="107.1" r="2.75" fill="#c4c81e" stroke="#6e6e0c" stroke-width="0.7"/><circle cx="293.6" cy="109.2" r="2.75" fill="#c4c81e" stroke="#6e6e0c" stroke-width="0.7"/><circle cx="295.4" cy="111.4" r="2.75" fill="#c4c81e" stroke="#6e6e0c" stroke-width="0.7"/><circle cx="297.1" cy="113.6" r="2.75" fill="#c4c81e" stroke="#6e6e0c" stroke-width="0.7"/><circle cx="298.7" cy="115.9" r="2.75" fill="#c4c81e" stroke="#6e6e0c" stroke-width="0.7"/><circle cx="300.3" cy="118.2" r="2.75" fill="#c4c81e" stroke="#6e6e0c" stroke-width="0.7"/><circle cx="301.8" cy="120.5" r="2.75" fill="#c4c81e" stroke="#6e6e0c" stroke-width="0.7"/><circle cx="303.3" cy="122.9" r="2.75" fill="#c4c81e" stroke="#6e6e0c" stroke-width="0.7"/><circle cx="304.6" cy="125.3" r="2.75" fill="#c4c81e" stroke="#6e6e0c" stroke-width="0.7"/><circle cx="305.9" cy="127.8" r="2.75" fill="#c4c81e" stroke="#6e6e0c" stroke-width="0.7"/><circle cx="307.2" cy="130.3" r="2.75" fill="#c4c81e" stroke="#6e6e0c" stroke-width="0.7"/><circle cx="308.4" cy="132.8" r="2.75" fill="#c4c81e" stroke="#6e6e0c" stroke-width="0.7"/><circle cx="309.5" cy="135.4" r="2.75" fill="#c4c81e" stroke="#6e6e0c" stroke-width="0.7"/><circle cx="310.5" cy="138.0" r="2.75" fill="#c4c81e" stroke="#6e6e0c" stroke-width="0.7"/><circle cx="311.4" cy="140.6" r="2.75" fill="#c4c81e" stroke="#6e6e0c" stroke-width="0.7"/><circle cx="312.3" cy="143.3" r="2.75" fill="#c4c81e" stroke="#6e6e0c" stroke-width="0.7"/><circle cx="313.1" cy="145.9" r="2.75" fill="#c4c81e" stroke="#6e6e0c" stroke-width="0.7"/><circle cx="313.9" cy="148.6" r="2.75" fill="#c4c81e" stroke="#6e6e0c" stroke-width="0.7"/><circle cx="314.5" cy="151.3" r="2.75" fill="#c4c81e" stroke="#6e6e0c" stroke-width="0.7"/><circle cx="315.1" cy="154.1" r="2.75" fill="#c4c81e" stroke="#6e6e0c" stroke-width="0.7"/><circle cx="315.6" cy="156.8" r="2.75" fill="#c4c81e" stroke="#6e6e0c" stroke-width="0.7"/><circle cx="316.0" cy="159.6" r="2.75" fill="#c4c81e" stroke="#6e6e0c" stroke-width="0.7"/><circle cx="316.4" cy="162.4" r="2.75" fill="#c4c81e" stroke="#6e6e0c" stroke-width="0.7"/><circle cx="316.6" cy="165.1" r="2.75" fill="#c4c81e" stroke="#6e6e0c" stroke-width="0.7"/><circle cx="316.8" cy="167.9" r="2.75" fill="#c4c81e" stroke="#6e6e0c" stroke-width="0.7"/><circle cx="317.0" cy="170.7" r="2.75" fill="#c4c81e" stroke="#6e6e0c" stroke-width="0.7"/>
<path d="M189.5 180.1 L174.8 180.0 L160.7 182.4 L145.7 175.5 L131.6 184.0 L117.9 186.9" stroke="#0a7a0a" stroke-width="2.4" fill="none"/>
<path d="M208.3 215.3 L205.2 229.3" stroke="#0a7a0a" stroke-width="2.4" fill="none"/>
<path d="M142.1 215.8 L129.5 222.0" stroke="#0a7a0a" stroke-width="2.4" fill="none"/>
<path d="M140.5 212.8 L128.0 219.1" stroke="#e81010" stroke-width="2.4" fill="none"/>
<path d="M159.2 131.8 L147.4 123.0 L136.1 114.7" stroke="#e81010" stroke-width="2.4" fill="none"/>
<path d="M165.4 124.3 L155.7 113.2" stroke="#e81010" stroke-width="2.4" fill="none"/>
<path d="M237.3 105.1 L237.2 89.9 L238.0 75.7 L242.2 76.7" stroke="#e81010" stroke-width="2.4" fill="none"/>
<path d="M263.6 245.8 L271.3 257.5" stroke="#e81010" stroke-width="2.4" fill="none"/>
<path d="M148.1 155.0 L132.3 158.6 L131.2 167.5 L117.5 163.0" stroke="#0a7a0a" stroke-width="2.4" fill="none"/>
<circle cx="189.5" cy="180.1" r="3.5999999999999996" fill="#0a7a0a" stroke="#222" stroke-width="0.6"/>
<circle cx="174.8" cy="180.0" r="3.5999999999999996" fill="#0a7a0a" stroke="#222" stroke-width="0.6"/>
<circle cx="160.7" cy="182.4" r="3.4" fill="#0a7a0a" stroke="#222" stroke-width="0.6"/>
<circle cx="145.7" cy="175.5" r="3.1999999999999997" fill="#0a7a0a" stroke="#222" stroke-width="0.6"/>
<circle cx="131.6" cy="184.0" r="3.0" fill="#0a7a0a" stroke="#222" stroke-width="0.6"/>
<circle cx="117.9" cy="186.9" r="2.9" fill="#0a7a0a" stroke="#222" stroke-width="0.6"/>
<circle cx="208.3" cy="215.3" r="3.5999999999999996" fill="#0a7a0a" stroke="#222" stroke-width="0.6"/>
<circle cx="205.2" cy="229.3" r="3.4" fill="#0a7a0a" stroke="#222" stroke-width="0.6"/>
<circle cx="142.1" cy="215.8" r="3.0" fill="#0a7a0a" stroke="#222" stroke-width="0.6"/>
<circle cx="129.5" cy="222.0" r="2.9" fill="#0a7a0a" stroke="#222" stroke-width="0.6"/>
<circle cx="140.5" cy="212.8" r="3.0" fill="#e81010" stroke="#222" stroke-width="0.6"/>
<circle cx="128.0" cy="219.1" r="2.9" fill="#e81010" stroke="#222" stroke-width="0.6"/>
<circle cx="159.2" cy="131.8" r="3.1999999999999997" fill="#e81010" stroke="#222" stroke-width="0.6"/>
<circle cx="147.4" cy="123.0" r="3.0" fill="#e81010" stroke="#222" stroke-width="0.6"/>
<circle cx="136.1" cy="114.7" r="2.9" fill="#e81010" stroke="#222" stroke-width="0.6"/>
<circle cx="165.4" cy="124.3" r="3.1999999999999997" fill="#e81010" stroke="#222" stroke-width="0.6"/>
<circle cx="155.7" cy="113.2" r="3.0" fill="#e81010" stroke="#222" stroke-width="0.6"/>
<circle cx="237.3" cy="105.1" r="3.1999999999999997" fill="#e81010" stroke="#222" stroke-width="0.6"/>
<circle cx="237.2" cy="89.9" r="3.0" fill="#e81010" stroke="#222" stroke-width="0.6"/>
<circle cx="238.0" cy="75.7" r="2.9" fill="#e81010" stroke="#222" stroke-width="0.6"/>
<circle cx="242.2" cy="76.7" r="2.9" fill="#e81010" stroke="#222" stroke-width="0.6"/>
<circle cx="263.6" cy="245.8" r="3.0" fill="#e81010" stroke="#222" stroke-width="0.6"/>
<circle cx="271.3" cy="257.5" r="2.9" fill="#e81010" stroke="#222" stroke-width="0.6"/>
<circle cx="222.1" cy="73.6" r="2.9" fill="#0a7a0a" stroke="#222" stroke-width="0.6"/>
<circle cx="264.4" cy="85.5" r="2.9" fill="#0a7a0a" stroke="#222" stroke-width="0.6"/>
<circle cx="148.1" cy="155.0" r="3.1999999999999997" fill="#0a7a0a" stroke="#222" stroke-width="0.6"/>
<circle cx="132.3" cy="158.6" r="3.0" fill="#0a7a0a" stroke="#222" stroke-width="0.6"/>
<circle cx="131.2" cy="167.5" r="3.0" fill="#0a7a0a" stroke="#222" stroke-width="0.6"/>
<circle cx="117.5" cy="163.0" r="2.9" fill="#0a7a0a" stroke="#222" stroke-width="0.6"/>
<text transform="translate(89.7 219) rotate(-98)" font-size="8.5" fill="#555">Firmicutes</text>
<text x="29.5" y="18.3" font-size="17.5" fill="#000">a</text>
<rect x="60.2" y="27.4" width="16.5" height="6" fill="#ff0000"/>
<rect x="60.2" y="40.2" width="16.5" height="5.6" fill="#008000"/>
<text x="80" y="33.3" font-size="12.2" fill="#222" textLength="67" lengthAdjust="spacingAndGlyphs">Mortality: yes</text>
<text x="80" y="47.2" font-size="12.2" fill="#222" textLength="64.3" lengthAdjust="spacingAndGlyphs">Mortality: no</text>
<rect x="59.8" y="291.4" width="16" height="5.2" fill="#e00" stroke="#000" stroke-width="0.6"/>
<text x="82.3" y="297.0" font-size="8.5" fill="#222">a: Porphyromonadace</text>
<rect x="59.8" y="301.0" width="16" height="5.2" fill="#e00" stroke="#000" stroke-width="0.6"/>
<text x="82.3" y="306.6" font-size="8.5" fill="#222">b: Leuconostocaceae</text>
<rect x="59.8" y="310.5" width="16" height="5.2" fill="#e00" stroke="#000" stroke-width="0.6"/>
<text x="82.3" y="316.1" font-size="8.5" fill="#222">c: Christensenellacea</text>
<rect x="59.8" y="320.1" width="16" height="5.2" fill="#070" stroke="#000" stroke-width="0.6"/>
<text x="82.3" y="325.7" font-size="8.5" fill="#222">d: Eubacteriaceae</text>
<rect x="59.8" y="329.6" width="16" height="5.2" fill="#070" stroke="#000" stroke-width="0.6"/>
<text x="82.3" y="335.2" font-size="8.5" fill="#222">e: Lachnospiraceae</text>
<rect x="59.8" y="339.2" width="16" height="5.2" fill="#070" stroke="#000" stroke-width="0.6"/>
<text x="82.3" y="344.8" font-size="8.5" fill="#222">f: Clostridiales</text>
<rect x="59.8" y="348.8" width="16" height="5.2" fill="#070" stroke="#000" stroke-width="0.6"/>
<text x="82.3" y="354.4" font-size="8.5" fill="#222">g: Clostridia</text>
<rect x="59.8" y="358.3" width="16" height="5.2" fill="#070" stroke="#000" stroke-width="0.6"/>
<text x="82.3" y="363.9" font-size="8.5" fill="#222">h: Selenomonadales</text>
<rect x="59.8" y="367.9" width="16" height="5.2" fill="#070" stroke="#000" stroke-width="0.6"/>
<text x="82.3" y="373.5" font-size="8.5" fill="#222">i: Negativicutes</text>
<line x1="387.6" y1="0" x2="387.6" y2="379" stroke="#555" stroke-width="1"/>
<text x="387.6" y="388.2" font-size="10.5" text-anchor="middle" fill="#222">−11.43</text>
<line x1="420.2" y1="0" x2="420.2" y2="379" stroke="#555" stroke-width="1"/>
<text x="420.2" y="388.2" font-size="10.5" text-anchor="middle" fill="#222">−8.59</text>
<line x1="452.9" y1="0" x2="452.9" y2="379" stroke="#555" stroke-width="1"/>
<text x="452.9" y="388.2" font-size="10.5" text-anchor="middle" fill="#222">−5.75</text>
<line x1="485.5" y1="0" x2="485.5" y2="379" stroke="#555" stroke-width="1"/>
<text x="485.5" y="388.2" font-size="10.5" text-anchor="middle" fill="#222">−2.91</text>
<line x1="518.1" y1="0" x2="518.1" y2="379" stroke="#555" stroke-width="1"/>
<text x="518.1" y="388.2" font-size="10.5" text-anchor="middle" fill="#222">−0.07</text>
<line x1="550.8" y1="0" x2="550.8" y2="379" stroke="#555" stroke-width="1"/>
<text x="550.8" y="388.2" font-size="10.5" text-anchor="middle" fill="#222">2.77</text>
<line x1="583.4" y1="0" x2="583.4" y2="379" stroke="#555" stroke-width="1"/>
<text x="583.4" y="388.2" font-size="10.5" text-anchor="middle" fill="#222">5.61</text>
<line x1="616.0" y1="0" x2="616.0" y2="379" stroke="#555" stroke-width="1"/>
<text x="616.0" y="388.2" font-size="10.5" text-anchor="middle" fill="#222">8.45</text>
<line x1="648.6" y1="0" x2="648.6" y2="379" stroke="#555" stroke-width="1"/>
<text x="648.6" y="388.2" font-size="10.5" text-anchor="middle" fill="#222">11.29</text>
<line x1="681.3" y1="0" x2="681.3" y2="379" stroke="#555" stroke-width="1"/>
<text x="681.3" y="388.2" font-size="10.5" text-anchor="middle" fill="#222">14.13</text>
<text x="504.5" y="399.2" font-size="9.7" fill="#222">LDA SCORE (log 10)</text>
<rect x="518.3" y="6.9" width="180.4" height="9.4" fill="#008000" stroke="#000" stroke-width="0.8"/>
<text x="514.4" y="15.8" font-size="7.2" text-anchor="end" fill="#222">Firmicutes</text>
<rect x="518.3" y="18.3" width="47.5" height="9.4" fill="#008000" stroke="#000" stroke-width="0.8"/>
<text x="514.4" y="27.2" font-size="7.2" text-anchor="end" fill="#222">Lachnospiracea_incertae_sedis</text>
<rect x="518.3" y="29.7" width="42.0" height="9.4" fill="#008000" stroke="#000" stroke-width="0.8"/>
<text x="514.4" y="38.6" font-size="7.2" text-anchor="end" fill="#222">Blautia</text>
<rect x="518.3" y="41.1" width="41.3" height="9.4" fill="#008000" stroke="#000" stroke-width="0.8"/>
<text x="514.4" y="50.0" font-size="7.2" text-anchor="end" fill="#222">Ruminococcus_gnavus</text>
<rect x="518.3" y="52.5" width="40.4" height="9.4" fill="#008000" stroke="#000" stroke-width="0.8"/>
<text x="514.4" y="61.4" font-size="7.2" text-anchor="end" fill="#222">Peptostreptococcus_anaerobius</text>
<rect x="518.3" y="63.9" width="39.6" height="9.4" fill="#008000" stroke="#000" stroke-width="0.8"/>
<text x="514.4" y="72.8" font-size="7.2" text-anchor="end" fill="#222">Clostridiales</text>
<rect x="518.3" y="75.3" width="35.7" height="9.4" fill="#008000" stroke="#000" stroke-width="0.8"/>
<text x="514.4" y="84.2" font-size="7.2" text-anchor="end" fill="#222">Clostridium_XIVa</text>
<rect x="518.3" y="86.7" width="34.9" height="9.4" fill="#008000" stroke="#000" stroke-width="0.8"/>
<text x="514.4" y="95.6" font-size="7.2" text-anchor="end" fill="#222">Intestinibacter</text>
<rect x="518.3" y="98.1" width="34.9" height="9.4" fill="#008000" stroke="#000" stroke-width="0.8"/>
<text x="514.4" y="107.0" font-size="7.2" text-anchor="end" fill="#222">Intestinibacter_bartlettii</text>
<rect x="518.3" y="109.5" width="34.9" height="9.4" fill="#008000" stroke="#000" stroke-width="0.8"/>
<text x="514.4" y="118.4" font-size="7.2" text-anchor="end" fill="#222">Clostridia</text>
<rect x="518.3" y="120.9" width="33.5" height="9.4" fill="#008000" stroke="#000" stroke-width="0.8"/>
<text x="514.4" y="129.8" font-size="7.2" text-anchor="end" fill="#222">Selenomonadales</text>
<rect x="518.3" y="132.3" width="33.5" height="9.4" fill="#008000" stroke="#000" stroke-width="0.8"/>
<text x="514.4" y="141.2" font-size="7.2" text-anchor="end" fill="#222">Negativicutes</text>
<rect x="518.3" y="143.7" width="32.3" height="9.4" fill="#008000" stroke="#000" stroke-width="0.8"/>
<text x="514.4" y="152.6" font-size="7.2" text-anchor="end" fill="#222">Lachnospiraceae</text>
<rect x="518.3" y="155.1" width="30.7" height="9.4" fill="#008000" stroke="#000" stroke-width="0.8"/>
<text x="514.4" y="164.0" font-size="7.2" text-anchor="end" fill="#222">Anaerostipes</text>
<rect x="518.3" y="166.5" width="28.7" height="9.4" fill="#008000" stroke="#000" stroke-width="0.8"/>
<text x="514.4" y="175.4" font-size="7.2" text-anchor="end" fill="#222">Prevotella_copri</text>
<rect x="518.3" y="177.9" width="28.4" height="9.4" fill="#008000" stroke="#000" stroke-width="0.8"/>
<text x="514.4" y="186.8" font-size="7.2" text-anchor="end" fill="#222">Bacteroides_salyersiae</text>
<rect x="518.3" y="189.3" width="26.8" height="9.4" fill="#008000" stroke="#000" stroke-width="0.8"/>
<text x="514.4" y="198.2" font-size="7.2" text-anchor="end" fill="#222">Eubacteriaceae</text>
<rect x="492.1" y="200.7" width="26.2" height="9.4" fill="#ff0000" stroke="#000" stroke-width="0.8"/>
<text x="523.6" y="209.6" font-size="7.2" fill="#222">Clostridium_difficile</text>
<rect x="492.1" y="212.1" width="26.2" height="9.4" fill="#ff0000" stroke="#000" stroke-width="0.8"/>
<text x="523.6" y="221.0" font-size="7.2" fill="#222">Clostridium_XI</text>
<rect x="489.6" y="223.5" width="28.7" height="9.4" fill="#ff0000" stroke="#000" stroke-width="0.8"/>
<text x="523.6" y="232.4" font-size="7.2" fill="#222">Leuconostoc</text>
<rect x="481.4" y="234.9" width="36.9" height="9.4" fill="#ff0000" stroke="#000" stroke-width="0.8"/>
<text x="523.6" y="243.8" font-size="7.2" fill="#222">Sutterella</text>
<rect x="480.2" y="246.3" width="38.1" height="9.4" fill="#ff0000" stroke="#000" stroke-width="0.8"/>
<text x="523.6" y="255.2" font-size="7.2" fill="#222">Parabacteroides_johnsonii</text>
<rect x="479.3" y="257.7" width="39.0" height="9.4" fill="#ff0000" stroke="#000" stroke-width="0.8"/>
<text x="523.6" y="266.6" font-size="7.2" fill="#222">Prevotella_buccae</text>
<rect x="475.1" y="269.1" width="43.2" height="9.4" fill="#ff0000" stroke="#000" stroke-width="0.8"/>
<text x="523.6" y="278.0" font-size="7.2" fill="#222">Christensenella_minuta</text>
<rect x="475.1" y="280.5" width="43.2" height="9.4" fill="#ff0000" stroke="#000" stroke-width="0.8"/>
<text x="523.6" y="289.4" font-size="7.2" fill="#222">Christensenellaceae</text>
<rect x="475.1" y="291.9" width="43.2" height="9.4" fill="#ff0000" stroke="#000" stroke-width="0.8"/>
<text x="523.6" y="300.8" font-size="7.2" fill="#222">Christensenella</text>
<rect x="472.7" y="303.3" width="45.6" height="9.4" fill="#ff0000" stroke="#000" stroke-width="0.8"/>
<text x="523.6" y="312.2" font-size="7.2" fill="#222">Sutterella_stercoricanis</text>
<rect x="455.7" y="314.7" width="62.6" height="9.4" fill="#ff0000" stroke="#000" stroke-width="0.8"/>
<text x="523.6" y="323.6" font-size="7.2" fill="#222">Parabacteroides_distasonis</text>
<rect x="447.5" y="326.1" width="70.8" height="9.4" fill="#ff0000" stroke="#000" stroke-width="0.8"/>
<text x="523.6" y="335.0" font-size="7.2" fill="#222">Leuconostocaceae</text>
<rect x="446.1" y="337.5" width="72.2" height="9.4" fill="#ff0000" stroke="#000" stroke-width="0.8"/>
<text x="523.6" y="346.4" font-size="7.2" fill="#222">Porphyromonadaceae</text>
<rect x="440.9" y="348.9" width="77.4" height="9.4" fill="#ff0000" stroke="#000" stroke-width="0.8"/>
<text x="523.6" y="357.8" font-size="7.2" fill="#222">Parabacteroides_merdae</text>
<rect x="402.4" y="360.3" width="115.9" height="9.4" fill="#ff0000" stroke="#000" stroke-width="0.8"/>
<text x="523.6" y="369.2" font-size="7.2" fill="#222">Parabacteroides</text>
<path d="M433.50 43.70L433.50 50.90M430.38 45.50L436.62 49.10M436.62 45.50L430.38 49.10" stroke="#e0202a" stroke-width="1.25" fill="none"/>
<path d="M456.20 168.40L456.20 175.60M453.08 170.20L459.32 173.80M459.32 170.20L453.08 173.80" stroke="#e0202a" stroke-width="1.25" fill="none"/>
<path d="M595.00 202.10L595.00 209.30M591.88 203.90L598.12 207.50M598.12 203.90L591.88 207.50" stroke="#e0202a" stroke-width="1.25" fill="none"/>
<path d="M611.40 351.00L611.40 358.20M608.28 352.80L614.52 356.40M614.52 352.80L608.28 356.40" stroke="#e0202a" stroke-width="1.25" fill="none"/>
<text x="345.4" y="18.8" font-size="19" fill="#000">b</text>
<rect x="40.4" y="444.3" width="159.5" height="157.2" fill="none" stroke="#9a9a9a" stroke-width="1.2"/>
<line x1="35.9" y1="451.9" x2="40.4" y2="451.9" stroke="#888" stroke-width="1.1"/>
<text x="29.9" y="456.9" font-size="10.2" text-anchor="end" fill="#222">1.0</text>
<line x1="35.9" y1="499.6" x2="40.4" y2="499.6" stroke="#888" stroke-width="1.1"/>
<text x="29.9" y="504.6" font-size="10.2" text-anchor="end" fill="#222">0.8</text>
<line x1="35.9" y1="546.3" x2="40.4" y2="546.3" stroke="#888" stroke-width="1.1"/>
<text x="29.9" y="551.3" font-size="10.2" text-anchor="end" fill="#222">0.6</text>
<line x1="35.9" y1="593.5" x2="40.4" y2="593.5" stroke="#888" stroke-width="1.1"/>
<text x="29.9" y="598.5" font-size="10.2" text-anchor="end" fill="#222">0.4</text>
<line x1="48.3" y1="601.5" x2="48.3" y2="605.5" stroke="#888" stroke-width="1.1"/>
<text x="48.3" y="617.3" font-size="10.5" text-anchor="middle" fill="#222">0</text>
<line x1="96.3" y1="601.5" x2="96.3" y2="605.5" stroke="#888" stroke-width="1.1"/>
<text x="96.3" y="617.3" font-size="10.5" text-anchor="middle" fill="#222">60</text>
<line x1="144" y1="601.5" x2="144" y2="605.5" stroke="#888" stroke-width="1.1"/>
<text x="144" y="617.3" font-size="10.5" text-anchor="middle" fill="#222">120</text>
<line x1="191.7" y1="601.5" x2="191.7" y2="605.5" stroke="#888" stroke-width="1.1"/>
<text x="191.7" y="617.3" font-size="10.5" text-anchor="middle" fill="#222">180</text>
<path d="M48.3 451.8 H75.7 V463.8 H83.6 V476.1 H94.0 V488.3 H103.7 V501.4 H192.4 V501.4" fill="none" stroke="#5cba62" stroke-width="1.15"/>
<path d="M48.3 451.8 H50.9 V455.7 H52.2 V459.6 H53.5 V464.8 H55.4 V468.7 H58.0 V472.7 H61.4 V476.6 H62.7 V480.5 H64.0 V485.7 H66.6 V490.4 H69.2 V494.9 H70.5 V500.1 H72.6 V507.9 H74.4 V513.1 H78.3 V517.0 H80.9 V519.7 H83.6 V526.2 H84.9 V531.4 H86.2 V535.8 H88.8 V540.0 H104.4 V545.2 H118.8 V549.7 H121.4 V553.6 H124.0 V559.3 H129.2 V563.5 H152.7 V568.5 H192.4 V568.5" fill="none" stroke="#5563a6" stroke-width="1.1"/>
<text x="22.5" y="430.9" font-size="19" fill="#000">c</text>
<text x="49.6" y="432.2" font-size="12.5" font-style="italic" fill="#222" textLength="87.4" lengthAdjust="spacingAndGlyphs">Prevotella copri</text>
<text x="50.6" y="592.2" font-size="12.5" fill="#222" textLength="71.8" lengthAdjust="spacingAndGlyphs">P value = .025</text>
<line x1="107" y1="458" x2="116.2" y2="458" stroke="#5563a6" stroke-width="0.9" stroke-dasharray="2.2 1.3"/>
<text x="118.8" y="461" font-size="9.6" fill="#333" textLength="65.3" lengthAdjust="spacingAndGlyphs">Low abundance</text>
<line x1="107" y1="469.7" x2="116.2" y2="469.7" stroke="#5cba62" stroke-width="0.9" stroke-dasharray="2.2 1.3"/>
<text x="118.8" y="472.7" font-size="9.6" fill="#333" textLength="67.1" lengthAdjust="spacingAndGlyphs">High abundance</text>
<rect x="227.4" y="444.3" width="161.9" height="157.90000000000003" fill="none" stroke="#9a9a9a" stroke-width="1.2"/>
<line x1="222.9" y1="452.1" x2="227.4" y2="452.1" stroke="#888" stroke-width="1.1"/>
<text x="218.20000000000002" y="458.90000000000003" font-size="10.2" text-anchor="end" fill="#222">1.0</text>
<line x1="222.9" y1="487.4" x2="227.4" y2="487.4" stroke="#888" stroke-width="1.1"/>
<text x="218.20000000000002" y="494.2" font-size="10.2" text-anchor="end" fill="#222">0.8</text>
<line x1="222.9" y1="523" x2="227.4" y2="523" stroke="#888" stroke-width="1.1"/>
<text x="218.20000000000002" y="529.8" font-size="10.2" text-anchor="end" fill="#222">0.6</text>
<line x1="222.9" y1="558.3" x2="227.4" y2="558.3" stroke="#888" stroke-width="1.1"/>
<text x="218.20000000000002" y="565.0999999999999" font-size="10.2" text-anchor="end" fill="#222">0.4</text>
<line x1="222.9" y1="594" x2="227.4" y2="594" stroke="#888" stroke-width="1.1"/>
<text x="218.20000000000002" y="600.8" font-size="10.2" text-anchor="end" fill="#222">0.2</text>
<line x1="235.2" y1="602.2" x2="235.2" y2="606.2" stroke="#888" stroke-width="1.1"/>
<text x="235.2" y="617.3" font-size="10.5" text-anchor="middle" fill="#222">0</text>
<line x1="284.3" y1="602.2" x2="284.3" y2="606.2" stroke="#888" stroke-width="1.1"/>
<text x="284.3" y="617.3" font-size="10.5" text-anchor="middle" fill="#222">60</text>
<line x1="333.2" y1="602.2" x2="333.2" y2="606.2" stroke="#888" stroke-width="1.1"/>
<text x="333.2" y="617.3" font-size="10.5" text-anchor="middle" fill="#222">120</text>
<line x1="382" y1="602.2" x2="382" y2="606.2" stroke="#888" stroke-width="1.1"/>
<text x="382" y="617.3" font-size="10.5" text-anchor="middle" fill="#222">180</text>
<path d="M235.2 451.8 H241.3 V457.0 H251.7 V461.7 H268.4 V466.1 H271.8 V472.7 H277.0 V479.2 H307.0 V485.2 H382.0 V485.2" fill="none" stroke="#5cba62" stroke-width="1.15"/>
<path d="M235.2 451.8 H238.6 V458.3 H240.5 V463.5 H243.9 V468.7 H247.0 V475.3 H249.6 V480.5 H256.1 V487.0 H257.4 V493.6 H260.6 V494.9 H262.7 V501.4 H264.0 V506.6 H265.3 V511.8 H269.2 V517.0 H271.8 V521.0 H273.1 V524.9 H282.2 V530.1 H291.9 V539.2 H311.7 V548.4 H318.8 V553.1 H342.3 V557.5 H382.0 V557.5" fill="none" stroke="#5563a6" stroke-width="1.1"/>
<text x="205" y="430.5" font-size="19" fill="#000">d</text>
<text x="237.3" y="433" font-size="12.5" font-style="italic" fill="#222" textLength="121.4" lengthAdjust="spacingAndGlyphs">Ruminococcus gnavus</text>
<text x="239.7" y="592.8" font-size="12.5" fill="#222" textLength="71.3" lengthAdjust="spacingAndGlyphs">P value = .001</text>
<line x1="300" y1="455.3" x2="308.4" y2="455.3" stroke="#5563a6" stroke-width="0.9" stroke-dasharray="2.2 1.3"/>
<text x="311.7" y="458.3" font-size="9.6" fill="#333" textLength="65.8" lengthAdjust="spacingAndGlyphs">Low abundance</text>
<line x1="300" y1="467" x2="308.4" y2="467" stroke="#5cba62" stroke-width="0.9" stroke-dasharray="2.2 1.3"/>
<text x="311.7" y="470" font-size="9.6" fill="#333" textLength="67.6" lengthAdjust="spacingAndGlyphs">High abundance</text>
<rect x="414.9" y="444.3" width="158.89999999999998" height="157.90000000000003" fill="none" stroke="#9a9a9a" stroke-width="1.2"/>
<line x1="410.4" y1="451.8" x2="414.9" y2="451.8" stroke="#888" stroke-width="1.1"/>
<text x="407.09999999999997" y="458.40000000000003" font-size="10.2" text-anchor="end" fill="#222">1.0</text>
<line x1="410.4" y1="487.5" x2="414.9" y2="487.5" stroke="#888" stroke-width="1.1"/>
<text x="407.09999999999997" y="494.1" font-size="10.2" text-anchor="end" fill="#222">0.8</text>
<line x1="410.4" y1="522.8" x2="414.9" y2="522.8" stroke="#888" stroke-width="1.1"/>
<text x="407.09999999999997" y="529.4" font-size="10.2" text-anchor="end" fill="#222">0.6</text>
<line x1="410.4" y1="558.3" x2="414.9" y2="558.3" stroke="#888" stroke-width="1.1"/>
<text x="407.09999999999997" y="564.9" font-size="10.2" text-anchor="end" fill="#222">0.4</text>
<line x1="410.4" y1="594" x2="414.9" y2="594" stroke="#888" stroke-width="1.1"/>
<text x="407.09999999999997" y="600.6" font-size="10.2" text-anchor="end" fill="#222">0.2</text>
<line x1="422.9" y1="602.2" x2="422.9" y2="606.2" stroke="#888" stroke-width="1.1"/>
<text x="422.9" y="617.3" font-size="10.5" text-anchor="middle" fill="#222">0</text>
<line x1="470.6" y1="602.2" x2="470.6" y2="606.2" stroke="#888" stroke-width="1.1"/>
<text x="470.6" y="617.3" font-size="10.5" text-anchor="middle" fill="#222">60</text>
<line x1="518.7" y1="602.2" x2="518.7" y2="606.2" stroke="#888" stroke-width="1.1"/>
<text x="518.7" y="617.3" font-size="10.5" text-anchor="middle" fill="#222">120</text>
<line x1="566.5" y1="602.2" x2="566.5" y2="606.2" stroke="#888" stroke-width="1.1"/>
<text x="566.5" y="617.3" font-size="10.5" text-anchor="middle" fill="#222">180</text>
<path d="M422.9 451.8 H425.5 V463.5 H428.1 V472.7 H432.0 V485.7 H435.1 V498.8 H438.5 V511.8 H447.1 V524.9 H448.2 V541.1 H459.4 V555.4 H479.0 V570.1 H497.3 V584.4 H566.5 V584.4" fill="none" stroke="#5cba62" stroke-width="1.15"/>
<path d="M422.9 451.8 H426.3 V457.0 H433.3 V459.6 H438.5 V463.5 H443.0 V470.1 H447.7 V472.7 H450.3 V476.6 H453.4 V479.2 H455.5 V483.1 H458.1 V487.0 H460.7 V489.6 H463.3 V492.2 H468.6 V493.6 H469.9 V495.6 H476.4 V497.5 H477.7 V499.3 H492.0 V501.9 H493.4 V504.0 H497.3 V506.1 H499.9 V507.9 H527.3 V511.8 H566.5 V511.8" fill="none" stroke="#5563a6" stroke-width="1.1"/>
<text x="385.5" y="430.5" font-size="19" fill="#000">e</text>
<text x="424.2" y="432.2" font-size="12.5" font-style="italic" fill="#222" textLength="136.3" lengthAdjust="spacingAndGlyphs">Parabacteroides merdae</text>
<text x="421.6" y="594.9" font-size="12.5" fill="#222" textLength="71.0" lengthAdjust="spacingAndGlyphs">P value = .001</text>
<line x1="481.6" y1="459.2" x2="490.7" y2="459.2" stroke="#5563a6" stroke-width="0.9" stroke-dasharray="2.2 1.3"/>
<text x="493.4" y="462.2" font-size="9.6" fill="#333" textLength="66.0" lengthAdjust="spacingAndGlyphs">Low abundance</text>
<line x1="481.6" y1="471.8" x2="490.7" y2="471.8" stroke="#5cba62" stroke-width="0.9" stroke-dasharray="2.2 1.3"/>
<text x="493.4" y="474.8" font-size="9.6" fill="#333" textLength="67.8" lengthAdjust="spacingAndGlyphs">High abundance</text>
<rect x="602.3" y="444.3" width="162.20000000000005" height="157.90000000000003" fill="none" stroke="#9a9a9a" stroke-width="1.2"/>
<line x1="597.8" y1="452.3" x2="602.3" y2="452.3" stroke="#888" stroke-width="1.1"/>
<text x="593.0999999999999" y="457.6" font-size="10.2" text-anchor="end" fill="#222">1.0</text>
<line x1="597.8" y1="499.6" x2="602.3" y2="499.6" stroke="#888" stroke-width="1.1"/>
<text x="593.0999999999999" y="504.90000000000003" font-size="10.2" text-anchor="end" fill="#222">0.8</text>
<line x1="597.8" y1="546.6" x2="602.3" y2="546.6" stroke="#888" stroke-width="1.1"/>
<text x="593.0999999999999" y="551.9" font-size="10.2" text-anchor="end" fill="#222">0.6</text>
<line x1="597.8" y1="594" x2="602.3" y2="594" stroke="#888" stroke-width="1.1"/>
<text x="593.0999999999999" y="599.3" font-size="10.2" text-anchor="end" fill="#222">0.4</text>
<line x1="610.9" y1="602.2" x2="610.9" y2="606.2" stroke="#888" stroke-width="1.1"/>
<text x="610.9" y="617.3" font-size="10.5" text-anchor="middle" fill="#222">0</text>
<line x1="659.5" y1="602.2" x2="659.5" y2="606.2" stroke="#888" stroke-width="1.1"/>
<text x="659.5" y="617.3" font-size="10.5" text-anchor="middle" fill="#222">60</text>
<line x1="708.3" y1="602.2" x2="708.3" y2="606.2" stroke="#888" stroke-width="1.1"/>
<text x="708.3" y="617.3" font-size="10.5" text-anchor="middle" fill="#222">120</text>
<line x1="757.1" y1="602.2" x2="757.1" y2="606.2" stroke="#888" stroke-width="1.1"/>
<text x="757.1" y="617.3" font-size="10.5" text-anchor="middle" fill="#222">180</text>
<path d="M610.9 451.8 H613.0 V458.3 H614.3 V464.8 H615.6 V470.1 H616.9 V475.3 H618.2 V480.5 H620.8 V488.3 H623.4 V494.9 H625.5 V500.1 H627.4 V506.6 H628.7 V507.9 H631.3 V513.1 H632.6 V517.0 H635.2 V522.3 H636.5 V528.8 H639.1 V534.0 H641.7 V540.5 H643.0 V547.1 H645.6 V553.1 H648.2 V553.1 H667.8 V560.1 H682.2 V566.7 H692.6 V574.0 H757.9 V574.0" fill="none" stroke="#5cba62" stroke-width="1.15"/>
<path d="M610.9 451.8 H630.8 V458.3 H631.3 V464.8 H636.5 V471.4 H645.6 V479.2 H646.9 V485.7 H649.6 V490.9 H652.2 V493.6 H657.4 V498.8 H666.5 V505.3 H686.1 V519.1 H717.4 V526.2 H757.9 V526.2" fill="none" stroke="#5563a6" stroke-width="1.1"/>
<text x="580" y="430.5" font-size="19" fill="#000">f</text>
<text x="610.4" y="431.4" font-size="12.5" font-style="italic" fill="#222" textLength="118.8" lengthAdjust="spacingAndGlyphs">Clostridioides difficile</text>
<text x="612.5" y="590.2" font-size="12.5" fill="#222" textLength="71.5" lengthAdjust="spacingAndGlyphs">P value = .026</text>
<line x1="673" y1="458.7" x2="682" y2="458.7" stroke="#5563a6" stroke-width="0.9" stroke-dasharray="2.2 1.3"/>
<text x="684.8" y="461.7" font-size="9.6" fill="#333" textLength="66.6" lengthAdjust="spacingAndGlyphs">Low abundance</text>
<line x1="673" y1="471.5" x2="682" y2="471.5" stroke="#5cba62" stroke-width="0.9" stroke-dasharray="2.2 1.3"/>
<text x="684.8" y="474.5" font-size="9.6" fill="#333" textLength="68.4" lengthAdjust="spacingAndGlyphs">High abundance</text>
<text transform="translate(11.7 576) rotate(-90)" font-size="12.6" fill="#222" textLength="105.8" lengthAdjust="spacingAndGlyphs">Survival probability</text>
<text x="16.3" y="622.2" font-size="10.2" fill="#222">Days</text>
<text x="22.5" y="654" font-size="19" fill="#000">g</text>
<text x="57.4" y="670.5" font-size="12.3" font-style="italic" fill="#222" textLength="87.0" lengthAdjust="spacingAndGlyphs">Prevotella copri</text>
<line x1="52" y1="681" x2="52" y2="767.4" stroke="#a0a0a0" stroke-width="1.1"/>
<line x1="52" y1="767.4" x2="202.5" y2="767.4" stroke="#a0a0a0" stroke-width="1.1"/>
<line x1="47.5" y1="681.9" x2="52" y2="681.9" stroke="#a0a0a0" stroke-width="1.1"/>
<text x="39.4" y="687.1999999999999" font-size="11" text-anchor="end" fill="#222">0.02</text>
<line x1="47.5" y1="724.3" x2="52" y2="724.3" stroke="#a0a0a0" stroke-width="1.1"/>
<text x="39.4" y="729.5999999999999" font-size="11" text-anchor="end" fill="#222">0.01</text>
<line x1="47.5" y1="767.4" x2="52" y2="767.4" stroke="#a0a0a0" stroke-width="1.1"/>
<text x="39.4" y="772.6999999999999" font-size="11" text-anchor="end" fill="#222">0</text>
<rect x="63.4" y="693.4" width="14.9" height="74.0" fill="#000"/>
<rect x="101.3" y="711.1" width="14.6" height="56.3" fill="#000"/>
<rect x="138.5" y="757" width="14.6" height="10.4" fill="#000"/>
<rect x="176.2" y="754.4" width="15.0" height="13.0" fill="#000"/>
<text x="70.6" y="789" font-size="11.5" text-anchor="middle" fill="#222">0</text>
<text x="109" y="789" font-size="11.5" text-anchor="middle" fill="#222">≥ 1</text>
<text x="146" y="789" font-size="11.5" text-anchor="middle" fill="#222">≥ 7</text>
<text x="184" y="789" font-size="11.5" text-anchor="middle" fill="#222">≥ 14</text>
<path d="M108.70 693.20L108.70 698.60M106.36 694.55L111.04 697.25M111.04 694.55L106.36 697.25" stroke="#222" stroke-width="1.15" fill="none"/>
<path d="M143.30 738.70L143.30 744.10M140.96 740.05L145.64 742.75M145.64 740.05L140.96 742.75" stroke="#222" stroke-width="1.15" fill="none"/>
<path d="M150.50 738.70L150.50 744.10M148.16 740.05L152.84 742.75M152.84 740.05L148.16 742.75" stroke="#222" stroke-width="1.15" fill="none"/>
<path d="M184.40 736.00L184.40 741.40M182.06 737.35L186.74 740.05M186.74 737.35L182.06 740.05" stroke="#222" stroke-width="1.15" fill="none"/>
<text x="3.8" y="787" font-size="11.5" fill="#222" textLength="53.5" lengthAdjust="spacingAndGlyphs">PPI (days)</text>
<text transform="translate(13.6 761.7) rotate(-90)" font-size="12.6" fill="#222" textLength="108.2" lengthAdjust="spacingAndGlyphs">Relative abundance</text>
<text x="209.5" y="653" font-size="19" fill="#000">h</text>
<text x="254.8" y="670.5" font-size="12.3" font-style="italic" fill="#222" textLength="121.9" lengthAdjust="spacingAndGlyphs">Ruminococcus gnavus</text>
<line x1="253.6" y1="689.9" x2="253.6" y2="767.5" stroke="#a0a0a0" stroke-width="1.1"/>
<line x1="250" y1="767.5" x2="383.2" y2="767.5" stroke="#a0a0a0" stroke-width="1.1"/>
<line x1="249.1" y1="689.9" x2="253.6" y2="689.9" stroke="#a0a0a0" stroke-width="1.1"/>
<text x="241.0" y="695.1999999999999" font-size="11.5" text-anchor="end" fill="#222">0.007</text>
<line x1="249.1" y1="715.9" x2="253.6" y2="715.9" stroke="#a0a0a0" stroke-width="1.1"/>
<text x="241.0" y="721.1999999999999" font-size="11.5" text-anchor="end" fill="#222">0.006</text>
<line x1="249.1" y1="741.9" x2="253.6" y2="741.9" stroke="#a0a0a0" stroke-width="1.1"/>
<text x="241.0" y="747.1999999999999" font-size="11.5" text-anchor="end" fill="#222">0.005</text>
<line x1="249.1" y1="767.5" x2="253.6" y2="767.5" stroke="#a0a0a0" stroke-width="1.1"/>
<text x="241.0" y="772.8" font-size="11.5" text-anchor="end" fill="#222">0.004</text>
<rect x="266.1" y="725.1" width="17.8" height="42.4" fill="#000"/>
<rect x="309.6" y="716.7" width="17.4" height="50.8" fill="#000"/>
<rect x="353.2" y="756.1" width="17.0" height="11.4" fill="#000"/>
<text x="274.9" y="789" font-size="11.5" text-anchor="middle" fill="#222">0</text>
<text x="318" y="789" font-size="11.5" text-anchor="middle" fill="#222">1~27</text>
<text x="361.8" y="789" font-size="11.5" text-anchor="middle" fill="#222">≥ 28</text>
<path d="M361.80 738.30L361.80 743.70M359.46 739.65L364.14 742.35M364.14 739.65L359.46 742.35" stroke="#222" stroke-width="1.15" fill="none"/>
<text x="399.3" y="652.2" font-size="19" fill="#000">i</text>
<text x="436.5" y="670.5" font-size="12.3" font-style="italic" fill="#222" textLength="136.5" lengthAdjust="spacingAndGlyphs">Parabacteroides merdae</text>
<line x1="433.2" y1="688.3" x2="433.2" y2="767.4" stroke="#a0a0a0" stroke-width="1.1"/>
<line x1="430" y1="767.4" x2="576.2" y2="767.4" stroke="#a0a0a0" stroke-width="1.1"/>
<line x1="428.7" y1="688.3" x2="433.2" y2="688.3" stroke="#a0a0a0" stroke-width="1.1"/>
<text x="420.59999999999997" y="693.5999999999999" font-size="12" text-anchor="end" fill="#222">0.06</text>
<line x1="428.7" y1="714.6" x2="433.2" y2="714.6" stroke="#a0a0a0" stroke-width="1.1"/>
<text x="420.59999999999997" y="719.9" font-size="12" text-anchor="end" fill="#222">0.04</text>
<line x1="428.7" y1="740.8" x2="433.2" y2="740.8" stroke="#a0a0a0" stroke-width="1.1"/>
<text x="420.59999999999997" y="746.0999999999999" font-size="12" text-anchor="end" fill="#222">0.02</text>
<line x1="428.7" y1="767.4" x2="433.2" y2="767.4" stroke="#a0a0a0" stroke-width="1.1"/>
<text x="420.59999999999997" y="772.6999999999999" font-size="12" text-anchor="end" fill="#222">0</text>
<rect x="447.8" y="753.8" width="18.8" height="13.6" fill="#3a3a3a"/>
<rect x="495.3" y="707" width="19.6" height="60.4" fill="#3a3a3a"/>
<rect x="542.8" y="703.6" width="19.6" height="63.8" fill="#3a3a3a"/>
<text x="456.9" y="789" font-size="11.5" text-anchor="middle" fill="#222">0</text>
<text x="505.2" y="789" font-size="11.5" text-anchor="middle" fill="#222">1~13</text>
<text x="552.7" y="789" font-size="11.5" text-anchor="middle" fill="#222">≥ 14</text>
<path d="M505.20 689.30L505.20 694.70M502.86 690.65L507.54 693.35M507.54 690.65L502.86 693.35" stroke="#222" stroke-width="1.15" fill="none"/>
<text x="586.5" y="653" font-size="19" fill="#000">j</text>
<text x="634.4" y="670.5" font-size="12.3" font-style="italic" fill="#222" textLength="118.3" lengthAdjust="spacingAndGlyphs">Clostridioides difficile</text>
<line x1="634.3" y1="689.1" x2="634.3" y2="767.9" stroke="#a0a0a0" stroke-width="1.1"/>
<line x1="630" y1="767.9" x2="761.8" y2="767.9" stroke="#a0a0a0" stroke-width="1.1"/>
<line x1="629.8" y1="689.1" x2="634.3" y2="689.1" stroke="#a0a0a0" stroke-width="1.1"/>
<text x="621.6999999999999" y="694.4" font-size="11.5" text-anchor="end" fill="#222">3.E-06</text>
<line x1="629.8" y1="715.3" x2="634.3" y2="715.3" stroke="#a0a0a0" stroke-width="1.1"/>
<text x="621.6999999999999" y="720.5999999999999" font-size="11.5" text-anchor="end" fill="#222">2.E-06</text>
<line x1="629.8" y1="741.5" x2="634.3" y2="741.5" stroke="#a0a0a0" stroke-width="1.1"/>
<text x="621.6999999999999" y="746.8" font-size="11.5" text-anchor="end" fill="#222">1.E-06</text>
<line x1="629.8" y1="767.9" x2="634.3" y2="767.9" stroke="#a0a0a0" stroke-width="1.1"/>
<text x="621.6999999999999" y="773.1999999999999" font-size="11.5" text-anchor="end" fill="#222">0.E+00</text>
<rect x="690" y="735.7" width="17.5" height="32.2" fill="#3a3a3a"/>
<rect x="733.1" y="710.9" width="17.8" height="57.0" fill="#3a3a3a"/>
<text x="655.6" y="789" font-size="11.5" text-anchor="middle" fill="#222">0</text>
<text x="698.6" y="789" font-size="11.5" text-anchor="middle" fill="#222">1~27</text>
<text x="741.5" y="789" font-size="11.5" text-anchor="middle" fill="#222">≥ 28</text>
<path d="M741.50 695.20L741.50 700.60M739.16 696.55L743.84 699.25M743.84 696.55L739.16 699.25" stroke="#222" stroke-width="1.15" fill="none"/>
</svg></body></html>
